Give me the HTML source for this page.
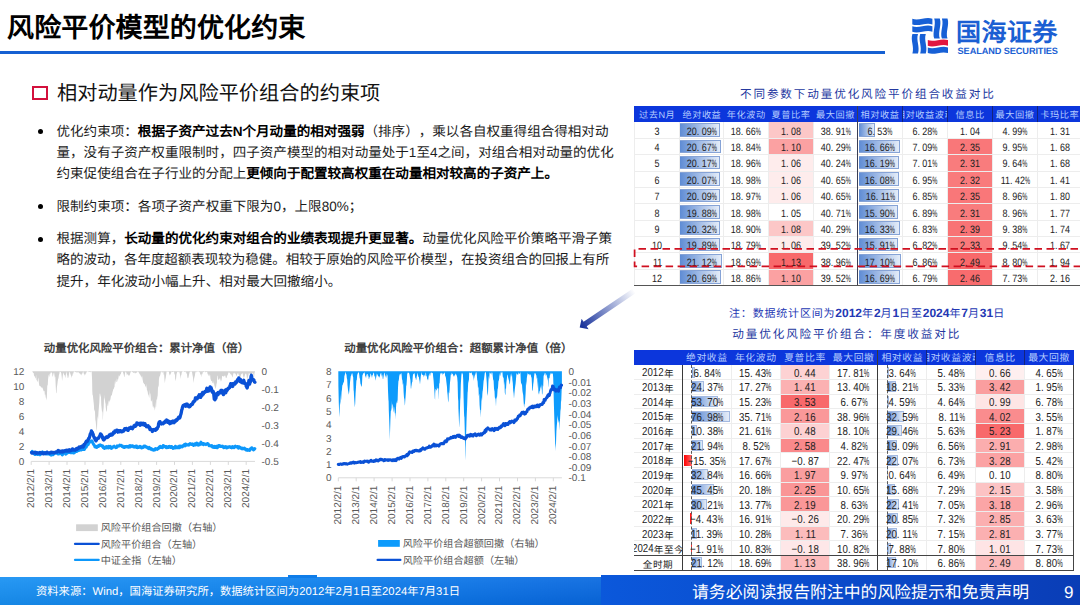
<!DOCTYPE html>
<html lang="zh-CN"><head><meta charset="utf-8"><title>风险平价模型的优化约束</title>
<style>
*{margin:0;padding:0;box-sizing:border-box}
.j{text-align:justify;text-align-last:justify}
html,body{width:1080px;height:605px;overflow:hidden;background:#fff}
body{position:relative;text-rendering:geometricPrecision;text-spacing-trim:space-all;font-family:"Liberation Sans",sans-serif;color:#222}
.abs{position:absolute;white-space:nowrap}
#title{left:7px;top:10px;font-size:27px;line-height:37px;font-weight:bold;color:#000;letter-spacing:.1px}
#rule{left:0;top:50.7px;width:885px;height:3.3px;background:#1560d2}
#sq{left:32.2px;top:85.7px;width:15.5px;height:14.8px;border:2.8px solid #d3103c}
#sub{left:57px;top:79px;font-size:20.2px;line-height:30px;color:#111}
.bl{left:56.5px;font-size:13.55px;line-height:21.4px;color:#1c1c1c}
.bl b{color:#000}
.dot{width:5px;height:5px;border-radius:50%;background:#000;left:38px}
#foot{left:0;top:576.5px;width:1080px;height:28.5px;background:linear-gradient(180deg,rgba(255,255,255,.07),rgba(0,0,40,.07)),linear-gradient(90deg,#1891f3 0%,#0d80ee 30%,#0868e0 56%,#0a55d6 100%)}
#footR{left:600.7px;top:575.2px;width:480px;height:30px;background:linear-gradient(90deg,#0b58db 0%,#0a4dce 40%,#0a3db6 100%)}
#footT{left:288px;top:575px;width:29px;height:3px;background:#0f7de9}
#src{left:36px;top:584.3px;font-size:11.3px;line-height:16px;color:#fff}
#disc{left:692px;top:581.8px;font-size:16.85px;line-height:22px;color:#fff}
#pg{left:1064px;top:581.8px;font-size:17px;line-height:22px;color:#fff}

#lgcn{left:956px;top:16.6px;font-size:25px;line-height:32px;font-weight:bold;color:#1b5fd3;letter-spacing:.35px}
#lgen{left:957.6px;top:44.6px;font-size:9.2px;line-height:12px;font-weight:bold;color:#1b5fd3;letter-spacing:-.1px}

.ct{font-size:11.4px;font-weight:bold;color:#404040;line-height:14px}
.lg{font-size:10.15px;line-height:13px;color:#595959}
svg text{font-family:"Liberation Sans",sans-serif}

.kai{font-family:"Liberation Sans",sans-serif}
.tt{color:#24389f;font-size:11.6px;letter-spacing:1.85px;line-height:15px}
.th{font-family:"Liberation Sans",sans-serif;font-weight:500;background:#0c36dc;color:#b4ccff;font-size:9.2px;letter-spacing:.55px;line-height:15px;overflow:hidden;display:flex;justify-content:center;align-items:center;padding-top:2.2px}
.c{display:flex;justify-content:center;align-items:center;overflow:visible}
.n{font-family:"Liberation Sans",sans-serif;font-size:10.7px;line-height:14px;color:#222;display:inline-block;transform:scaleX(.84);white-space:nowrap;position:relative;top:1.4px}
.n i{font-style:normal;display:inline-block}
.n .p{width:.556em;text-align:left}
.n .pc{transform:scaleX(.64);margin:0 -.165em}
.t2 .n{font-size:11.55px;top:1.2px}
.t2 .bar{border-color:#a3b9e0}
.t2 .th{font-size:9.9px;letter-spacing:.55px}
.yl{font-size:10.4px;line-height:14px;color:#1c1c1c;white-space:nowrap}
.yk{position:relative;top:2.4px;font-size:9.6px;letter-spacing:.6px}
.bar{background:linear-gradient(90deg,#5f8cd4 0%,#a9c1e8 55%,#e4ecf8 100%);border:1px solid #86a3d6;border-left:none}
.nbar{background:linear-gradient(90deg,#ff0000,#ff6b6b);}
.hl{background:#ededed;height:1px}
.vl{background:#ededed;width:1px}
.dk{background:#3a3a3a}
.d{font-style:normal;font-weight:bold;font-family:"Liberation Sans",sans-serif;letter-spacing:0;font-size:12px}
</style></head>
<body>

<div class="abs j" id="title" style="width:298.4px">风险平价模型的优化约束</div>
<div class="abs" id="rule"></div>
<div class="abs" id="sq"></div>
<div class="abs j" id="sub" style="width:323.3px">相对动量作为风险平价组合的约束项</div>

<div class="abs bl j" style="width:552.0px;top:120.7px">优化约束项：<b>根据子资产过去N个月动量的相对强弱</b>（排序），乘以各自权重得组合得相对动</div>
<div class="abs dot" style="top:129.2px"></div>
<div class="abs bl j" style="width:557.2px;top:142.2px">量，没有子资产权重限制时，四子资产模型的相对动量处于1至4之间，对组合相对动量的优化</div>
<div class="abs bl j" style="width:501.5px;top:163.4px">约束促使组合在子行业的分配上<b>更倾向于配置较高权重在动量相对较高的子资产上。</b></div>
<div class="abs bl j" style="width:305.8px;top:195.7px">限制约束项：各项子资产权重下限为0，上限80%；</div>
<div class="abs dot" style="top:204.2px"></div>
<div class="abs bl j" style="width:555.7px;top:228.2px">根据测算，<b>长动量的优化约束对组合的业绩表现提升更显著。</b>动量优化风险平价策略平滑子策</div>
<div class="abs dot" style="top:236.7px"></div>
<div class="abs bl j" style="width:552.8px;top:249.3px;letter-spacing:-.07px">略的波动，各年度超额表现较为稳健。相较于原始的风险平价模型，在投资组合的回报上有所</div>
<div class="abs bl j" style="width:284.8px;top:270.7px">提升，年化波动小幅上升、相对最大回撤缩小。</div>

<div class="abs" id="foot"></div>
<div class="abs" id="footT"></div>
<div class="abs" id="footR"></div>
<div class="abs j" id="src" style="width:424.0px">资料来源：Wind，国海证券研究所，数据统计区间为2012年2月1日至2024年7月31日</div>
<div class="abs j" id="disc" style="width:337.1px">请务必阅读报告附注中的风险提示和免责声明</div>
<div class="abs" id="pg">9</div>

<svg class="abs" style="left:908px;top:14px" width="46" height="44" viewBox="908 14 46 44"><path d="M912.3 18.8C918.9 21.2 925.6 16.4 932.4 18.8L932.4 24.4C925.6 22.0 918.9 26.8 912.3 24.4ZM912.3 26.2C918.9 28.6 925.6 23.8 932.4 26.2L932.4 31.8C925.6 29.4 918.9 34.2 912.3 31.8ZM934.2 18.4C936.4 25.1 932.0 31.7 934.2 38.6L939.8 38.6C937.6 31.7 942.0 25.1 939.8 18.4ZM941.9 18.4C944.1 25.1 939.7 31.7 941.9 38.6L947.5 38.6C945.3 31.7 949.7 25.1 947.5 18.4ZM912.4 34.0C910.2 40.4 914.6 46.8 912.4 53.4L918.0 53.4C920.2 46.8 915.8 40.4 918.0 34.0ZM920.2 34.0C918.0 40.4 922.4 46.8 920.2 53.4L925.8 53.4C928.0 46.8 923.6 40.4 925.8 34.0ZM927.8 47.5C934.5 49.9 941.1 45.1 948.0 47.5L948.0 53.1C941.1 50.7 934.5 55.5 927.8 53.1Z" fill="#1760d6"/><path d="M927.8 40.1C934.5 42.5 941.1 37.7 948.0 40.1L948.0 45.7C941.1 43.3 934.5 48.1 927.8 45.7Z" fill="#e2163f"/></svg>
<div class="abs j" id="lgcn" style="width:101.7px">国海证券</div>
<div class="abs" id="lgen">SEALAND SECURITIES</div>
<svg class="abs" style="left:0;top:330px" width="640" height="250" viewBox="0 330 640 250"><path d="M32.2 371.3 L32.5 371.7 L32.9 372.6 L33.3 372.9 L33.7 373.1 L34.1 376.6 L34.5 375.4 L34.9 376.9 L35.3 378.1 L35.7 378.7 L36.1 374.6 L36.5 380.3 L36.9 380.3 L37.3 381.4 L37.7 381.9 L38.1 377.5 L38.5 379.1 L38.9 383.0 L39.3 385.7 L39.7 385.7 L40.1 386.4 L40.5 385.8 L40.9 386.9 L41.3 387.9 L41.5 387.3 L41.7 387.2 L42.1 387.4 L42.5 387.8 L42.9 389.1 L43.3 390.1 L43.7 391.6 L44.1 390.8 L44.5 391.3 L44.5 391.3 L44.9 395.0 L45.3 394.3 L45.7 397.2 L46.1 398.2 L46.5 400.5 L46.5 400.5 L46.9 396.4 L47.3 385.1 L47.5 385.3 L47.7 385.9 L48.1 379.0 L48.5 376.1 L48.9 374.5 L49.3 377.4 L49.7 373.6 L50.1 374.6 L50.5 373.1 L50.9 372.3 L51.3 371.9 L51.7 373.1 L52.1 373.0 L52.5 376.6 L52.9 376.6 L53.3 374.5 L53.7 372.9 L54.1 372.5 L54.5 375.3 L54.9 377.8 L55.3 376.2 L55.7 385.8 L56.1 392.8 L56.4 393.0 L56.5 393.8 L56.9 387.3 L57.3 384.8 L57.7 381.4 L58.1 378.9 L58.5 378.3 L58.9 374.9 L59.3 373.9 L59.7 371.7 L60.1 371.7 L60.5 372.1 L60.9 372.3 L61.3 373.6 L61.7 376.6 L62.1 381.1 L62.5 378.1 L62.9 374.9 L63.3 372.5 L63.7 373.6 L64.1 374.9 L64.5 374.7 L64.9 376.3 L65.3 378.2 L65.7 375.5 L66.1 373.4 L66.5 371.6 L66.9 374.2 L67.3 375.4 L67.7 378.0 L68.1 378.0 L68.5 377.1 L68.9 374.8 L69.3 372.2 L69.7 371.7 L70.1 373.1 L70.5 374.3 L70.9 375.2 L71.3 376.0 L71.7 377.9 L72.1 376.1 L72.5 375.5 L72.9 373.3 L73.3 373.7 L73.7 372.0 L74.1 371.6 L74.5 371.4 L74.9 371.9 L75.3 372.0 L75.7 372.3 L76.1 371.8 L76.5 373.1 L76.9 372.1 L77.3 372.2 L77.7 372.4 L78.1 372.5 L78.5 371.9 L78.9 372.7 L79.3 373.4 L79.7 373.2 L80.1 373.5 L80.5 374.2 L80.9 374.8 L81.3 375.6 L81.7 373.7 L82.1 373.8 L82.5 373.3 L82.9 371.7 L83.3 371.6 L83.7 373.4 L84.1 374.0 L84.5 374.5 L84.9 375.7 L85.3 374.5 L85.7 373.5 L86.1 373.4 L86.5 372.2 L86.9 371.5 L87.3 371.4 L87.7 371.3 L88.1 372.3 L88.5 371.7 L88.9 371.3 L89.3 372.1 L89.7 372.1 L90.1 371.9 L90.5 372.4 L90.9 371.4 L91.3 371.6 L91.7 372.0 L92.1 380.3 L92.3 391.3 L92.5 394.8 L92.9 395.6 L93.3 399.6 L93.7 402.9 L94.0 406.3 L94.1 409.8 L94.5 411.7 L94.9 408.9 L95.3 419.4 L95.7 421.6 L96.1 425.7 L96.5 429.4 L96.9 431.0 L96.9 431.0 L97.3 420.8 L97.7 416.1 L98.1 419.0 L98.5 412.0 L98.5 412.0 L98.9 407.3 L99.3 402.5 L99.7 393.3 L100.1 394.4 L100.2 393.0 L100.5 397.3 L100.9 395.1 L101.3 405.0 L101.3 405.0 L101.7 409.0 L102.1 412.7 L102.5 410.4 L102.7 419.5 L102.9 419.7 L103.3 410.9 L103.7 407.1 L104.1 394.4 L104.3 398.0 L104.5 398.2 L104.9 399.9 L105.3 402.8 L105.6 404.0 L105.7 407.0 L106.1 409.8 L106.5 411.7 L106.8 411.0 L106.9 412.4 L107.3 402.9 L107.7 405.8 L108.1 405.9 L108.5 402.0 L108.5 402.0 L108.9 400.6 L109.3 400.6 L109.7 402.7 L110.0 400.0 L110.1 400.6 L110.5 398.7 L110.9 396.3 L111.3 395.1 L111.7 396.0 L112.1 394.1 L112.5 392.0 L112.5 392.0 L112.9 390.9 L113.3 389.0 L113.7 389.3 L114.1 387.2 L114.5 387.6 L114.9 380.2 L115.0 385.0 L115.3 380.1 L115.7 384.6 L116.1 378.0 L116.5 382.1 L116.9 382.1 L117.3 381.3 L117.7 379.1 L118.1 379.5 L118.5 377.6 L118.9 375.1 L119.3 376.8 L119.7 375.5 L120.1 375.6 L120.5 374.1 L120.9 374.0 L121.3 372.3 L121.7 371.8 L122.1 371.6 L122.5 371.7 L122.9 371.9 L123.3 373.3 L123.7 374.5 L124.1 376.5 L124.5 377.2 L124.9 373.9 L125.3 372.2 L125.7 371.5 L126.1 372.2 L126.5 373.0 L126.9 375.5 L127.3 373.9 L127.7 374.4 L128.1 374.7 L128.5 375.3 L128.9 376.1 L129.3 375.6 L129.7 375.1 L130.1 373.8 L130.5 372.6 L130.9 371.7 L131.3 371.6 L131.7 371.6 L132.1 372.0 L132.5 372.3 L132.9 372.0 L133.3 372.7 L133.7 372.9 L134.1 372.6 L134.5 372.6 L134.9 373.6 L135.3 372.8 L135.7 373.8 L136.1 372.1 L136.5 373.0 L136.9 372.7 L137.3 371.9 L137.7 371.4 L138.1 371.6 L138.5 372.4 L138.9 372.3 L139.3 373.5 L139.7 374.3 L140.1 374.5 L140.5 375.3 L140.9 376.3 L141.3 377.4 L141.7 375.7 L142.1 380.7 L142.5 375.3 L142.9 381.1 L143.3 382.9 L143.7 382.7 L144.1 384.6 L144.5 383.9 L144.9 384.2 L145.0 385.0 L145.3 386.6 L145.7 386.3 L146.1 388.2 L146.5 383.8 L146.9 390.0 L147.3 390.4 L147.5 391.3 L147.7 392.0 L148.1 394.8 L148.5 394.5 L148.9 397.2 L149.3 389.6 L149.7 397.2 L150.0 398.0 L150.1 392.7 L150.5 394.5 L150.9 400.9 L151.3 400.5 L151.7 402.1 L152.1 399.3 L152.5 404.3 L152.5 404.3 L152.9 407.3 L153.3 405.7 L153.7 408.0 L154.1 407.0 L154.5 408.8 L154.5 408.8 L154.9 410.8 L155.3 407.0 L155.7 401.4 L155.8 407.3 L156.1 406.9 L156.5 398.5 L156.9 400.3 L157.0 400.0 L157.3 397.3 L157.7 395.5 L158.1 385.3 L158.5 387.8 L158.8 385.3 L158.9 379.7 L159.3 376.9 L159.7 376.3 L160.1 375.6 L160.5 373.9 L160.9 371.7 L161.3 371.4 L161.7 372.0 L162.1 373.2 L162.5 371.5 L162.9 372.5 L163.3 371.5 L163.7 375.0 L164.1 374.2 L164.5 380.3 L164.9 383.2 L165.3 379.4 L165.7 377.9 L166.1 375.2 L166.5 372.3 L166.9 371.3 L167.3 371.9 L167.7 371.5 L168.1 371.5 L168.5 371.8 L168.9 371.9 L169.3 374.2 L169.7 375.8 L170.1 373.1 L170.5 375.2 L170.9 373.8 L171.3 372.2 L171.7 371.5 L172.1 372.1 L172.5 371.9 L172.9 371.9 L173.3 372.1 L173.7 371.5 L174.1 372.1 L174.5 374.5 L174.9 374.2 L175.3 381.3 L175.7 379.7 L176.1 378.6 L176.5 374.2 L176.9 373.1 L177.3 371.4 L177.7 371.9 L178.1 372.3 L178.5 372.0 L178.9 371.5 L179.3 371.8 L179.7 373.3 L180.1 375.3 L180.5 378.9 L180.9 375.5 L181.3 375.2 L181.7 373.1 L182.1 371.6 L182.5 371.8 L182.9 371.5 L183.3 371.6 L183.7 371.3 L184.1 371.7 L184.5 371.9 L184.9 371.8 L185.3 372.5 L185.7 371.6 L186.1 371.7 L186.5 374.3 L186.9 373.1 L187.3 377.0 L187.7 378.3 L188.1 378.1 L188.5 377.6 L188.9 375.3 L189.3 373.4 L189.7 371.9 L190.1 371.9 L190.5 371.8 L190.9 371.3 L191.3 371.4 L191.7 371.7 L192.1 372.5 L192.5 374.9 L192.9 377.0 L193.3 380.3 L193.7 383.1 L194.1 378.6 L194.5 377.1 L194.9 375.5 L195.3 372.7 L195.7 372.1 L196.1 371.6 L196.5 371.8 L196.9 372.4 L197.3 371.8 L197.7 371.3 L198.1 371.8 L198.5 371.6 L198.9 371.5 L199.3 372.2 L199.7 372.1 L200.1 373.7 L200.5 375.5 L200.9 373.7 L201.3 377.5 L201.7 374.1 L202.1 374.6 L202.5 373.8 L202.9 372.0 L203.3 372.2 L203.7 372.1 L204.1 371.9 L204.5 371.5 L204.9 371.5 L205.3 372.3 L205.7 372.2 L206.1 371.9 L206.5 371.9 L206.9 371.8 L207.3 372.2 L207.7 374.4 L208.1 373.9 L208.5 375.6 L208.9 375.8 L209.3 376.4 L209.7 374.2 L210.1 374.9 L210.5 379.0 L210.9 380.0 L211.3 381.5 L211.7 380.8 L212.1 381.1 L212.5 383.2 L212.9 382.7 L213.3 383.8 L213.7 380.7 L214.1 386.1 L214.5 386.9 L214.9 382.7 L215.2 389.8 L215.3 388.7 L215.7 387.9 L216.1 387.0 L216.5 384.1 L216.9 382.9 L217.3 375.9 L217.7 375.5 L218.1 379.9 L218.5 379.8 L218.9 379.2 L219.3 378.0 L219.7 379.4 L220.1 379.6 L220.5 381.9 L220.9 378.0 L221.3 381.4 L221.7 379.9 L222.1 376.0 L222.5 376.2 L222.9 375.8 L223.3 376.9 L223.7 376.0 L224.1 376.5 L224.5 375.4 L224.9 375.8 L225.3 375.6 L225.7 377.8 L226.1 377.8 L226.5 378.2 L226.9 376.8 L227.3 375.3 L227.7 375.2 L228.1 373.6 L228.5 373.0 L228.9 371.8 L229.3 373.0 L229.7 372.5 L230.1 373.9 L230.5 373.6 L230.9 374.8 L231.3 375.7 L231.7 374.1 L232.1 377.0 L232.5 377.5 L232.9 375.6 L233.3 374.0 L233.7 373.1 L234.1 373.3 L234.5 372.4 L234.9 374.2 L235.3 374.2 L235.7 372.9 L236.1 376.0 L236.5 375.5 L236.9 375.5 L237.3 373.9 L237.7 373.2 L238.1 373.1 L238.5 374.4 L238.9 374.9 L239.3 376.5 L239.7 377.0 L240.1 379.1 L240.5 377.6 L240.9 374.9 L241.3 374.3 L241.7 373.8 L242.1 373.5 L242.5 372.9 L242.9 374.4 L243.3 376.7 L243.7 377.8 L244.1 377.7 L244.5 376.6 L244.9 375.2 L245.3 373.9 L245.7 373.6 L246.1 373.5 L246.5 374.7 L246.9 378.2 L247.3 379.5 L247.7 378.1 L248.1 376.3 L248.5 374.8 L248.9 373.1 L249.3 374.1 L249.7 373.0 L250.1 374.9 L250.5 375.5 L250.9 376.4 L251.3 376.5 L251.7 374.1 L252.1 374.3 L252.5 373.6 L252.9 372.6 L253.3 374.1 L253.7 375.5 L254.1 377.7 L254.5 373.1 L254.9 372.1 L255.0 371.3Z" fill="#d2d2d2"/><path d="M31.2 461.4H255.0" stroke="#d9d9d9" stroke-width="1"/><path d="M31.2 461.4v3.5" stroke="#d9d9d9" stroke-width="1" fill="none"/><path d="M49.1 461.4v3.5" stroke="#d9d9d9" stroke-width="1" fill="none"/><path d="M67.0 461.4v3.5" stroke="#d9d9d9" stroke-width="1" fill="none"/><path d="M85.0 461.4v3.5" stroke="#d9d9d9" stroke-width="1" fill="none"/><path d="M102.9 461.4v3.5" stroke="#d9d9d9" stroke-width="1" fill="none"/><path d="M120.8 461.4v3.5" stroke="#d9d9d9" stroke-width="1" fill="none"/><path d="M138.7 461.4v3.5" stroke="#d9d9d9" stroke-width="1" fill="none"/><path d="M156.6 461.4v3.5" stroke="#d9d9d9" stroke-width="1" fill="none"/><path d="M174.5 461.4v3.5" stroke="#d9d9d9" stroke-width="1" fill="none"/><path d="M192.4 461.4v3.5" stroke="#d9d9d9" stroke-width="1" fill="none"/><path d="M210.4 461.4v3.5" stroke="#d9d9d9" stroke-width="1" fill="none"/><path d="M228.3 461.4v3.5" stroke="#d9d9d9" stroke-width="1" fill="none"/><path d="M246.2 461.4v3.5" stroke="#d9d9d9" stroke-width="1" fill="none"/><path d="M31.6 452.1 L32.0 452.1 L32.3 451.4 L32.7 452.4 L33.0 452.8 L33.4 452.9 L33.7 452.6 L34.1 452.6 L34.4 453.7 L34.8 454.4 L35.1 453.9 L35.5 454.3 L35.8 453.1 L36.2 452.3 L36.5 452.5 L36.9 452.4 L37.2 452.6 L37.6 453.0 L37.9 454.6 L38.3 453.9 L38.6 453.7 L39.0 453.8 L39.3 453.7 L39.7 454.1 L40.0 454.8 L40.4 453.7 L40.7 453.8 L41.1 453.6 L41.4 453.8 L41.8 453.0 L42.1 452.5 L42.5 451.9 L42.8 452.9 L43.2 453.4 L43.5 453.6 L43.9 452.6 L44.2 452.9 L44.6 452.9 L44.9 452.6 L45.3 452.7 L45.6 453.5 L46.0 453.9 L46.3 453.8 L46.7 454.0 L47.0 453.6 L47.4 453.7 L47.7 453.7 L48.1 454.0 L48.4 453.8 L48.8 453.7 L49.1 453.6 L49.5 453.3 L49.8 454.5 L50.2 454.3 L50.5 454.2 L50.9 455.0 L51.2 455.1 L51.6 453.7 L51.9 453.9 L52.3 454.1 L52.6 454.7 L53.0 454.8 L53.3 454.6 L53.7 453.5 L54.0 453.0 L54.4 453.3 L54.7 453.5 L55.1 452.9 L55.4 452.9 L55.8 452.8 L56.1 453.0 L56.5 453.2 L56.8 453.0 L57.2 452.5 L57.5 453.3 L57.9 454.0 L58.2 453.6 L58.6 453.9 L58.9 453.7 L59.3 453.8 L59.6 453.7 L60.0 453.0 L60.3 453.3 L60.7 453.6 L61.0 452.9 L61.4 453.8 L61.7 454.4 L62.1 454.7 L62.4 454.9 L62.8 454.4 L63.1 453.6 L63.5 453.0 L63.8 452.5 L64.2 452.6 L64.5 452.6 L64.9 453.0 L65.2 451.9 L65.6 453.3 L65.9 454.1 L66.3 453.5 L66.6 453.4 L67.0 453.3 L67.3 453.1 L67.7 452.8 L68.0 452.6 L68.4 452.1 L68.7 452.3 L69.1 452.4 L69.4 452.5 L69.8 452.0 L70.1 452.2 L70.5 452.3 L70.8 452.6 L71.2 451.9 L71.5 452.3 L71.9 452.7 L72.2 452.8 L72.5 452.4 L72.9 452.1 L73.2 452.0 L73.6 452.4 L73.9 453.0 L74.3 452.6 L74.6 452.0 L75.0 452.1 L75.3 452.0 L75.7 451.4 L76.0 451.0 L76.4 451.1 L76.7 451.4 L77.1 450.7 L77.4 450.3 L77.8 450.7 L78.1 450.1 L78.5 450.3 L78.8 450.5 L79.2 450.3 L79.5 449.8 L79.9 449.8 L80.2 449.7 L80.6 449.9 L80.9 449.3 L81.3 449.9 L81.6 448.9 L82.0 448.9 L82.3 449.0 L82.7 449.5 L83.0 448.9 L83.4 449.1 L83.7 448.6 L84.1 448.9 L84.4 449.5 L84.8 448.5 L85.1 448.1 L85.5 447.0 L85.8 447.1 L86.2 447.1 L86.5 446.3 L86.9 445.1 L87.2 444.9 L87.6 445.0 L87.9 444.8 L88.3 444.4 L88.6 442.7 L89.0 442.0 L89.3 442.5 L89.7 441.3 L90.0 441.5 L90.4 441.8 L90.7 441.3 L91.1 441.0 L91.4 441.0 L91.8 440.8 L92.1 441.5 L92.5 442.1 L92.8 442.8 L93.2 443.8 L93.5 444.3 L93.9 444.8 L94.2 445.3 L94.6 445.6 L94.9 446.8 L95.3 447.0 L95.6 447.1 L96.0 447.2 L96.3 446.8 L96.7 447.4 L97.0 447.1 L97.4 446.3 L97.7 446.0 L98.1 445.9 L98.4 445.7 L98.8 446.3 L99.1 445.4 L99.5 445.7 L99.8 445.6 L100.2 444.9 L100.5 445.0 L100.9 445.1 L101.2 445.7 L101.6 445.7 L101.9 446.2 L102.3 445.7 L102.6 445.7 L103.0 446.8 L103.3 447.6 L103.7 447.8 L104.0 447.6 L104.4 448.4 L104.7 447.2 L105.1 447.1 L105.4 447.7 L105.8 448.0 L106.1 447.4 L106.5 446.6 L106.8 447.7 L107.2 447.8 L107.5 447.3 L107.9 447.4 L108.2 447.9 L108.6 446.4 L108.9 447.4 L109.3 447.7 L109.6 446.6 L110.0 447.2 L110.3 446.4 L110.7 447.3 L111.0 447.4 L111.4 448.4 L111.7 447.6 L112.1 447.4 L112.4 447.7 L112.8 447.1 L113.1 446.7 L113.5 446.6 L113.8 446.7 L114.2 446.2 L114.5 446.7 L114.9 447.0 L115.2 446.9 L115.6 447.6 L115.9 447.1 L116.3 447.5 L116.6 446.9 L117.0 447.1 L117.3 445.9 L117.7 446.2 L118.0 446.2 L118.4 446.1 L118.7 446.0 L119.1 446.0 L119.4 445.8 L119.8 445.0 L120.1 445.3 L120.5 445.5 L120.8 445.6 L121.2 445.4 L121.5 445.8 L121.9 446.4 L122.2 446.3 L122.6 446.1 L122.9 446.9 L123.3 447.2 L123.6 447.3 L124.0 447.5 L124.3 446.9 L124.7 446.6 L125.0 447.1 L125.4 446.5 L125.7 446.4 L126.1 446.6 L126.4 446.7 L126.8 446.4 L127.1 446.9 L127.5 446.6 L127.8 446.8 L128.2 447.2 L128.5 447.2 L128.9 447.2 L129.2 446.3 L129.6 445.7 L129.9 445.6 L130.3 446.1 L130.6 446.9 L131.0 446.1 L131.3 446.3 L131.7 445.9 L132.0 445.7 L132.4 445.8 L132.7 446.4 L133.1 446.5 L133.4 447.0 L133.8 446.3 L134.1 446.8 L134.5 447.1 L134.8 446.9 L135.2 447.0 L135.5 446.5 L135.9 446.0 L136.2 446.0 L136.6 446.0 L136.9 447.6 L137.3 447.0 L137.6 447.7 L138.0 447.4 L138.3 447.3 L138.7 447.4 L139.0 446.8 L139.4 447.2 L139.7 447.2 L140.1 446.3 L140.4 446.8 L140.8 447.1 L141.1 447.2 L141.5 447.9 L141.8 447.3 L142.2 447.4 L142.5 447.6 L142.9 446.9 L143.2 447.5 L143.6 446.6 L143.9 446.2 L144.3 446.8 L144.6 446.4 L145.0 446.6 L145.3 446.2 L145.7 446.8 L146.0 446.6 L146.4 447.3 L146.7 446.9 L147.1 447.6 L147.4 447.8 L147.8 448.1 L148.1 448.3 L148.5 448.6 L148.8 448.1 L149.2 447.3 L149.5 448.1 L149.9 448.2 L150.2 448.5 L150.6 449.2 L150.9 448.5 L151.3 448.7 L151.6 449.0 L152.0 449.0 L152.3 449.8 L152.7 450.0 L153.0 449.9 L153.4 449.7 L153.7 450.2 L154.1 449.8 L154.4 450.0 L154.8 450.0 L155.1 448.9 L155.5 448.5 L155.8 448.7 L156.2 448.9 L156.5 449.2 L156.9 449.3 L157.2 449.4 L157.6 448.7 L157.9 448.3 L158.3 448.5 L158.6 447.9 L159.0 448.2 L159.3 447.1 L159.7 447.4 L160.0 447.2 L160.4 446.3 L160.7 447.2 L161.1 447.4 L161.4 447.4 L161.8 446.8 L162.1 446.8 L162.5 447.7 L162.8 447.2 L163.2 445.5 L163.5 445.8 L163.9 445.8 L164.2 446.4 L164.6 446.5 L164.9 446.4 L165.3 446.4 L165.6 447.2 L166.0 446.6 L166.3 447.8 L166.7 447.3 L167.0 446.8 L167.4 447.4 L167.7 447.6 L168.1 447.0 L168.4 447.5 L168.8 446.5 L169.1 446.4 L169.5 447.3 L169.8 447.2 L170.2 446.6 L170.5 447.1 L170.9 447.6 L171.2 447.5 L171.6 446.5 L171.9 446.7 L172.3 447.1 L172.6 447.6 L173.0 448.4 L173.3 447.8 L173.7 447.4 L174.0 447.3 L174.4 447.9 L174.7 447.2 L175.1 447.9 L175.4 446.3 L175.8 447.1 L176.1 446.8 L176.5 447.3 L176.8 447.6 L177.2 446.9 L177.5 447.0 L177.9 447.3 L178.2 447.6 L178.6 447.0 L178.9 446.6 L179.3 446.0 L179.6 447.7 L180.0 447.3 L180.3 447.0 L180.7 446.1 L181.0 446.7 L181.4 446.3 L181.7 446.9 L182.1 447.0 L182.4 446.5 L182.8 446.5 L183.1 445.6 L183.5 445.4 L183.8 445.2 L184.2 444.7 L184.5 445.0 L184.9 445.1 L185.2 445.9 L185.6 444.0 L185.9 444.2 L186.3 444.2 L186.6 444.4 L187.0 444.9 L187.3 445.1 L187.7 445.1 L188.0 444.8 L188.4 445.1 L188.7 445.2 L189.1 444.2 L189.4 444.3 L189.8 443.8 L190.1 443.6 L190.5 444.1 L190.8 444.3 L191.2 444.5 L191.5 444.1 L191.9 444.1 L192.2 443.8 L192.6 444.2 L192.9 444.6 L193.3 445.3 L193.6 445.5 L194.0 444.6 L194.3 444.3 L194.7 443.8 L195.0 444.1 L195.4 445.1 L195.7 445.1 L196.1 443.7 L196.4 443.3 L196.8 443.0 L197.1 443.8 L197.5 443.9 L197.8 444.2 L198.2 445.1 L198.5 444.3 L198.9 443.8 L199.2 444.9 L199.6 444.8 L199.9 444.2 L200.3 443.2 L200.6 442.8 L201.0 442.2 L201.3 443.0 L201.7 443.5 L202.0 444.2 L202.4 444.1 L202.7 443.8 L203.1 443.5 L203.4 444.7 L203.8 443.6 L204.1 443.9 L204.5 444.0 L204.8 444.3 L205.2 444.0 L205.5 444.3 L205.9 444.6 L206.2 444.3 L206.6 443.9 L206.9 443.9 L207.3 443.5 L207.6 443.6 L208.0 443.7 L208.3 444.1 L208.7 445.0 L209.0 445.6 L209.4 445.1 L209.7 445.5 L210.1 445.6 L210.4 445.9 L210.8 445.9 L211.1 446.0 L211.5 445.8 L211.8 445.6 L212.2 446.3 L212.5 447.1 L212.9 447.2 L213.2 447.3 L213.6 447.4 L213.9 447.1 L214.3 446.4 L214.6 447.2 L215.0 447.5 L215.3 447.2 L215.7 446.7 L216.0 447.4 L216.4 446.2 L216.7 447.1 L217.1 447.1 L217.4 447.8 L217.8 446.6 L218.1 446.2 L218.5 445.6 L218.8 445.8 L219.2 445.8 L219.5 445.6 L219.9 446.4 L220.2 446.0 L220.6 445.9 L220.9 446.4 L221.3 446.2 L221.6 446.2 L222.0 446.6 L222.3 446.6 L222.7 446.2 L223.0 446.5 L223.4 446.7 L223.7 447.7 L224.1 446.9 L224.4 447.4 L224.8 446.8 L225.1 446.7 L225.5 446.6 L225.8 446.8 L226.2 447.2 L226.5 447.9 L226.9 447.1 L227.2 447.6 L227.6 447.7 L227.9 447.7 L228.3 446.9 L228.6 447.2 L229.0 446.9 L229.3 446.9 L229.7 446.6 L230.0 446.9 L230.4 447.3 L230.7 447.5 L231.1 447.1 L231.4 447.4 L231.8 447.8 L232.1 446.9 L232.5 447.5 L232.8 446.6 L233.2 446.9 L233.5 447.1 L233.9 447.7 L234.2 447.5 L234.6 447.0 L234.9 446.5 L235.3 446.1 L235.6 446.8 L236.0 446.7 L236.3 446.5 L236.7 446.9 L237.0 446.6 L237.4 446.5 L237.7 446.5 L238.1 447.5 L238.4 448.1 L238.8 447.6 L239.1 446.7 L239.5 447.1 L239.8 447.3 L240.2 447.6 L240.5 448.0 L240.9 447.8 L241.2 448.4 L241.6 448.7 L241.9 448.7 L242.3 448.4 L242.6 448.2 L243.0 448.8 L243.3 448.3 L243.7 448.5 L244.0 448.4 L244.4 448.1 L244.7 448.9 L245.1 449.1 L245.4 449.4 L245.8 450.0 L246.1 449.2 L246.5 449.5 L246.8 449.9 L247.2 450.4 L247.5 449.6 L247.9 449.9 L248.2 449.8 L248.6 450.2 L248.9 450.3 L249.3 450.0 L249.6 450.5 L250.0 449.8 L250.3 449.0 L250.7 448.5 L251.0 448.2 L251.4 448.4 L251.7 447.7 L252.1 448.2 L252.4 448.8 L252.8 449.4 L253.1 449.2 L253.5 449.9 L253.8 449.4 L254.2 449.4 L254.5 448.6 L254.9 448.7" fill="none" stroke="#0d98fb" stroke-width="3.0" stroke-linejoin="round" stroke-linecap="round"/><path d="M31.6 452.6 L32.0 453.1 L32.3 453.2 L32.7 452.7 L33.0 452.9 L33.4 453.0 L33.7 452.9 L34.1 452.9 L34.4 452.8 L34.8 452.7 L35.1 452.2 L35.5 452.4 L35.8 453.0 L36.2 453.4 L36.5 453.1 L36.9 452.8 L37.2 452.8 L37.6 453.1 L37.9 453.2 L38.3 452.9 L38.6 453.1 L39.0 453.0 L39.3 453.1 L39.7 452.9 L40.0 452.5 L40.4 452.7 L40.7 453.1 L41.1 452.7 L41.4 452.8 L41.8 453.2 L42.1 453.0 L42.5 452.8 L42.8 453.6 L43.2 453.7 L43.5 453.8 L43.9 453.2 L44.2 453.7 L44.6 452.9 L44.9 452.8 L45.3 453.1 L45.6 453.5 L46.0 452.9 L46.3 452.7 L46.7 452.8 L47.0 452.1 L47.4 452.6 L47.7 452.8 L48.1 452.6 L48.4 452.8 L48.8 453.0 L49.1 452.9 L49.5 452.9 L49.8 453.3 L50.2 452.8 L50.5 452.7 L50.9 452.3 L51.2 452.7 L51.6 452.3 L51.9 452.5 L52.3 452.4 L52.6 452.3 L53.0 452.8 L53.3 452.5 L53.7 452.8 L54.0 452.8 L54.4 452.9 L54.7 452.4 L55.1 452.5 L55.4 452.5 L55.8 452.0 L56.1 451.9 L56.5 451.8 L56.8 451.7 L57.2 452.1 L57.5 451.6 L57.9 450.9 L58.2 450.4 L58.6 450.6 L58.9 450.7 L59.3 451.0 L59.6 451.3 L60.0 452.0 L60.3 451.8 L60.7 451.8 L61.0 451.3 L61.4 451.5 L61.7 451.9 L62.1 452.1 L62.4 450.9 L62.8 451.3 L63.1 451.9 L63.5 451.9 L63.8 450.9 L64.2 450.8 L64.5 451.1 L64.9 451.2 L65.2 450.7 L65.6 450.4 L65.9 451.0 L66.3 450.3 L66.6 451.1 L67.0 450.9 L67.3 451.0 L67.7 450.3 L68.0 450.2 L68.4 450.6 L68.7 450.0 L69.1 451.1 L69.4 450.2 L69.8 449.8 L70.1 450.1 L70.5 450.4 L70.8 450.7 L71.2 450.4 L71.5 450.3 L71.9 450.2 L72.2 450.0 L72.5 448.9 L72.9 449.9 L73.2 450.1 L73.6 450.2 L73.9 449.9 L74.3 450.1 L74.6 450.0 L75.0 449.8 L75.3 450.2 L75.7 449.1 L76.0 449.2 L76.4 448.6 L76.7 448.5 L77.1 449.2 L77.4 448.4 L77.8 448.3 L78.1 448.0 L78.5 448.4 L78.8 447.7 L79.2 446.9 L79.5 447.3 L79.9 447.1 L80.2 446.9 L80.6 447.4 L80.9 446.7 L81.3 446.5 L81.6 446.5 L82.0 446.6 L82.3 446.1 L82.7 446.5 L83.0 447.1 L83.4 446.0 L83.7 446.3 L84.1 444.3 L84.4 444.7 L84.8 443.9 L85.1 443.5 L85.5 442.9 L85.8 442.2 L86.2 441.4 L86.5 441.1 L86.9 441.6 L87.2 441.6 L87.6 440.8 L87.9 440.0 L88.3 439.3 L88.6 438.4 L89.0 438.6 L89.3 437.8 L89.7 436.6 L90.0 435.1 L90.4 433.6 L90.7 433.4 L91.1 432.7 L91.4 430.9 L91.8 431.6 L92.1 431.8 L92.5 433.2 L92.8 433.6 L93.2 434.5 L93.5 435.9 L93.9 436.8 L94.2 437.9 L94.6 437.8 L94.9 439.2 L95.3 440.2 L95.6 440.3 L96.0 440.9 L96.3 440.1 L96.7 439.6 L97.0 438.5 L97.4 438.4 L97.7 438.2 L98.1 438.5 L98.4 438.3 L98.8 437.9 L99.1 436.9 L99.5 436.2 L99.8 435.6 L100.2 435.3 L100.5 433.8 L100.9 434.7 L101.2 434.5 L101.6 435.1 L101.9 436.0 L102.3 436.4 L102.6 438.1 L103.0 438.3 L103.3 439.6 L103.7 439.9 L104.0 439.0 L104.4 438.8 L104.7 439.1 L105.1 438.3 L105.4 438.0 L105.8 437.3 L106.1 437.2 L106.5 436.8 L106.8 436.7 L107.2 437.1 L107.5 437.5 L107.9 436.9 L108.2 436.6 L108.6 436.6 L108.9 435.9 L109.3 435.0 L109.6 435.6 L110.0 434.7 L110.3 435.1 L110.7 434.2 L111.0 435.2 L111.4 434.1 L111.7 434.5 L112.1 435.0 L112.4 433.8 L112.8 434.4 L113.1 433.4 L113.5 432.2 L113.8 432.8 L114.2 433.1 L114.5 432.7 L114.9 431.0 L115.2 431.4 L115.6 431.4 L115.9 431.3 L116.3 431.2 L116.6 430.2 L117.0 430.2 L117.3 431.6 L117.7 432.2 L118.0 431.5 L118.4 430.8 L118.7 431.1 L119.1 431.6 L119.4 431.7 L119.8 430.6 L120.1 430.7 L120.5 430.7 L120.8 431.5 L121.2 431.8 L121.5 431.5 L121.9 431.8 L122.2 430.9 L122.6 431.6 L122.9 430.7 L123.3 430.7 L123.6 431.0 L124.0 430.0 L124.3 429.6 L124.7 428.6 L125.0 429.2 L125.4 429.4 L125.7 429.3 L126.1 429.7 L126.4 428.4 L126.8 428.8 L127.1 429.1 L127.5 429.1 L127.8 429.6 L128.2 430.4 L128.5 429.4 L128.9 428.5 L129.2 428.0 L129.6 428.1 L129.9 428.4 L130.3 427.6 L130.6 428.2 L131.0 427.2 L131.3 427.8 L131.7 427.7 L132.0 427.7 L132.4 428.7 L132.7 427.6 L133.1 427.0 L133.4 426.9 L133.8 427.1 L134.1 425.7 L134.5 425.8 L134.8 425.2 L135.2 425.6 L135.5 426.2 L135.9 425.7 L136.2 425.2 L136.6 425.0 L136.9 422.8 L137.3 423.8 L137.6 424.2 L138.0 424.1 L138.3 423.7 L138.7 423.4 L139.0 423.6 L139.4 424.6 L139.7 424.4 L140.1 425.3 L140.4 423.2 L140.8 423.4 L141.1 424.0 L141.5 424.2 L141.8 423.2 L142.2 423.3 L142.5 424.7 L142.9 423.9 L143.2 423.6 L143.6 423.3 L143.9 423.6 L144.3 424.6 L144.6 425.2 L145.0 423.7 L145.3 425.5 L145.7 425.2 L146.0 425.1 L146.4 426.7 L146.7 426.6 L147.1 425.8 L147.4 425.8 L147.8 425.8 L148.1 425.7 L148.5 426.3 L148.8 427.5 L149.2 428.0 L149.5 427.1 L149.9 429.6 L150.2 428.6 L150.6 428.8 L150.9 429.0 L151.3 429.7 L151.6 429.4 L152.0 429.9 L152.3 431.5 L152.7 431.1 L153.0 430.1 L153.4 430.4 L153.7 429.7 L154.1 429.5 L154.4 429.8 L154.8 430.0 L155.1 429.7 L155.5 430.3 L155.8 429.8 L156.2 428.7 L156.5 429.5 L156.9 428.6 L157.2 428.8 L157.6 427.4 L157.9 427.1 L158.3 426.5 L158.6 423.7 L159.0 422.6 L159.3 422.0 L159.7 423.2 L160.0 421.7 L160.4 422.9 L160.7 423.8 L161.1 423.8 L161.4 424.0 L161.8 423.2 L162.1 423.1 L162.5 423.2 L162.8 423.4 L163.2 423.7 L163.5 423.2 L163.9 422.5 L164.2 422.2 L164.6 422.7 L164.9 421.5 L165.3 421.0 L165.6 421.3 L166.0 421.4 L166.3 421.7 L166.7 420.0 L167.0 420.7 L167.4 421.2 L167.7 422.3 L168.1 420.8 L168.4 421.2 L168.8 422.0 L169.1 422.5 L169.5 423.3 L169.8 423.7 L170.2 422.3 L170.5 422.7 L170.9 422.2 L171.2 421.6 L171.6 423.0 L171.9 422.1 L172.3 421.4 L172.6 421.3 L173.0 420.9 L173.3 422.0 L173.7 422.0 L174.0 422.7 L174.4 422.3 L174.7 421.2 L175.1 421.7 L175.4 420.6 L175.8 420.0 L176.1 419.8 L176.5 419.7 L176.8 420.5 L177.2 419.5 L177.5 419.5 L177.9 419.2 L178.2 417.9 L178.6 417.2 L178.9 417.3 L179.3 417.9 L179.6 418.0 L180.0 417.4 L180.3 416.2 L180.7 414.6 L181.0 413.9 L181.4 411.9 L181.7 410.0 L182.1 409.2 L182.4 407.4 L182.8 406.6 L183.1 405.5 L183.5 405.2 L183.8 405.8 L184.2 405.5 L184.5 405.7 L184.9 404.7 L185.2 405.7 L185.6 405.4 L185.9 406.3 L186.3 404.2 L186.6 404.6 L187.0 405.7 L187.3 404.2 L187.7 405.0 L188.0 405.9 L188.4 406.4 L188.7 405.4 L189.1 406.3 L189.4 406.8 L189.8 405.8 L190.1 406.4 L190.5 405.8 L190.8 405.4 L191.2 404.5 L191.5 404.6 L191.9 404.1 L192.2 404.5 L192.6 404.0 L192.9 402.5 L193.3 401.8 L193.6 402.2 L194.0 401.2 L194.3 401.2 L194.7 401.2 L195.0 400.4 L195.4 398.0 L195.7 398.5 L196.1 398.8 L196.4 398.8 L196.8 397.8 L197.1 398.9 L197.5 398.2 L197.8 397.2 L198.2 396.4 L198.5 396.8 L198.9 395.6 L199.2 394.8 L199.6 396.9 L199.9 397.3 L200.3 397.3 L200.6 397.4 L201.0 396.7 L201.3 394.1 L201.7 395.0 L202.0 395.4 L202.4 394.9 L202.7 392.3 L203.1 393.4 L203.4 394.1 L203.8 392.7 L204.1 392.4 L204.5 392.6 L204.8 391.8 L205.2 392.3 L205.5 391.6 L205.9 391.6 L206.2 390.9 L206.6 389.0 L206.9 388.2 L207.3 391.3 L207.6 390.4 L208.0 390.7 L208.3 390.7 L208.7 391.0 L209.0 390.0 L209.4 388.3 L209.7 388.4 L210.1 386.9 L210.4 387.7 L210.8 389.4 L211.1 387.7 L211.5 389.0 L211.8 390.6 L212.2 392.1 L212.5 391.2 L212.9 391.6 L213.2 391.5 L213.6 392.8 L213.9 395.6 L214.3 399.2 L214.6 399.0 L215.0 399.8 L215.3 398.9 L215.7 397.1 L216.0 398.2 L216.4 394.1 L216.7 393.6 L217.1 393.2 L217.4 394.5 L217.8 394.5 L218.1 394.7 L218.5 392.4 L218.8 392.6 L219.2 393.2 L219.5 392.8 L219.9 392.5 L220.2 391.9 L220.6 391.4 L220.9 390.4 L221.3 392.9 L221.6 392.2 L222.0 390.4 L222.3 391.6 L222.7 392.1 L223.0 392.7 L223.4 394.7 L223.7 393.7 L224.1 392.6 L224.4 391.3 L224.8 391.0 L225.1 390.2 L225.5 390.2 L225.8 392.8 L226.2 391.6 L226.5 389.4 L226.9 390.7 L227.2 390.2 L227.6 389.6 L227.9 389.0 L228.3 388.6 L228.6 388.0 L229.0 388.2 L229.3 387.7 L229.7 387.6 L230.0 385.5 L230.4 384.8 L230.7 383.7 L231.1 384.6 L231.4 385.0 L231.8 383.9 L232.1 384.3 L232.5 386.5 L232.8 386.3 L233.2 383.9 L233.5 383.4 L233.9 383.8 L234.2 383.3 L234.6 383.3 L234.9 384.1 L235.3 383.7 L235.6 382.0 L236.0 382.7 L236.3 382.3 L236.7 382.2 L237.0 381.4 L237.4 380.1 L237.7 379.5 L238.1 380.1 L238.4 379.8 L238.8 377.9 L239.1 380.8 L239.5 380.1 L239.8 380.2 L240.2 381.6 L240.5 379.4 L240.9 382.0 L241.2 381.4 L241.6 382.5 L241.9 382.1 L242.3 382.6 L242.6 382.8 L243.0 382.8 L243.3 380.9 L243.7 380.2 L244.0 381.3 L244.4 383.4 L244.7 382.7 L245.1 383.5 L245.4 383.5 L245.8 383.9 L246.1 386.1 L246.5 385.4 L246.8 387.4 L247.2 388.0 L247.5 386.7 L247.9 384.9 L248.2 383.5 L248.6 381.9 L248.9 380.5 L249.3 383.3 L249.6 384.1 L250.0 382.6 L250.3 382.3 L250.7 380.0 L251.0 376.6 L251.4 375.3 L251.7 376.6 L252.1 379.6 L252.4 380.0 L252.8 379.5 L253.1 380.2 L253.5 380.1 L253.8 379.8 L254.2 381.1 L254.5 382.0 L254.9 382.3" fill="none" stroke="#0a51d6" stroke-width="3.3" stroke-linejoin="round" stroke-linecap="round"/><text x="24.3" y="374.9" text-anchor="end" font-size="10" fill="#595959">12</text><text x="24.3" y="389.9" text-anchor="end" font-size="10" fill="#595959">10</text><text x="24.3" y="404.9" text-anchor="end" font-size="10" fill="#595959">8</text><text x="24.3" y="420.0" text-anchor="end" font-size="10" fill="#595959">6</text><text x="24.3" y="435.0" text-anchor="end" font-size="10" fill="#595959">4</text><text x="24.3" y="450.0" text-anchor="end" font-size="10" fill="#595959">2</text><text x="24.3" y="465.0" text-anchor="end" font-size="10" fill="#595959">0</text><text x="261.5" y="374.9" font-size="10" fill="#595959">0</text><text x="261.5" y="392.9" font-size="10" fill="#595959">-0.1</text><text x="261.5" y="410.9" font-size="10" fill="#595959">-0.2</text><text x="261.5" y="429.0" font-size="10" fill="#595959">-0.3</text><text x="261.5" y="447.0" font-size="10" fill="#595959">-0.4</text><text x="261.5" y="465.0" font-size="10" fill="#595959">-0.5</text><text transform="translate(34.1 469.0) rotate(-90)" text-anchor="end" font-size="10" fill="#595959">2012/2/1</text><text transform="translate(52.0 469.0) rotate(-90)" text-anchor="end" font-size="10" fill="#595959">2013/2/1</text><text transform="translate(69.9 469.0) rotate(-90)" text-anchor="end" font-size="10" fill="#595959">2014/2/1</text><text transform="translate(87.9 469.0) rotate(-90)" text-anchor="end" font-size="10" fill="#595959">2015/2/1</text><text transform="translate(105.8 469.0) rotate(-90)" text-anchor="end" font-size="10" fill="#595959">2016/2/1</text><text transform="translate(123.7 469.0) rotate(-90)" text-anchor="end" font-size="10" fill="#595959">2017/2/1</text><text transform="translate(141.6 469.0) rotate(-90)" text-anchor="end" font-size="10" fill="#595959">2018/2/1</text><text transform="translate(159.5 469.0) rotate(-90)" text-anchor="end" font-size="10" fill="#595959">2019/2/1</text><text transform="translate(177.4 469.0) rotate(-90)" text-anchor="end" font-size="10" fill="#595959">2020/2/1</text><text transform="translate(195.3 469.0) rotate(-90)" text-anchor="end" font-size="10" fill="#595959">2021/2/1</text><text transform="translate(213.3 469.0) rotate(-90)" text-anchor="end" font-size="10" fill="#595959">2022/2/1</text><text transform="translate(231.2 469.0) rotate(-90)" text-anchor="end" font-size="10" fill="#595959">2023/2/1</text><text transform="translate(249.1 469.0) rotate(-90)" text-anchor="end" font-size="10" fill="#595959">2024/2/1</text><path d="M338.3 371.3 L338.4 386.3 L338.8 403.2 L339.2 413.4 L339.3 417.6 L339.6 412.6 L340.0 401.4 L340.2 403.3 L340.4 404.9 L340.8 394.1 L341.0 400.0 L341.2 399.2 L341.6 391.9 L342.0 389.3 L342.0 389.3 L342.4 383.9 L342.8 385.6 L343.0 385.0 L343.2 381.4 L343.6 383.6 L344.0 381.5 L344.4 375.9 L344.8 375.0 L345.2 372.7 L345.6 372.0 L346.0 374.4 L346.4 374.0 L346.8 378.0 L347.2 379.5 L347.5 385.3 L347.6 386.1 L348.0 389.9 L348.4 392.1 L348.8 394.8 L348.8 394.8 L349.2 392.0 L349.6 387.8 L350.0 382.4 L350.4 379.0 L350.8 375.9 L351.2 375.6 L351.6 374.0 L352.0 373.2 L352.4 373.4 L352.8 376.1 L353.2 377.2 L353.6 390.1 L353.8 391.3 L354.0 395.8 L354.4 401.5 L354.8 407.6 L354.8 407.6 L355.2 403.4 L355.6 393.2 L356.0 387.3 L356.0 387.3 L356.4 380.6 L356.8 380.1 L357.2 375.0 L357.6 373.9 L358.0 372.8 L358.4 372.7 L358.8 372.0 L359.2 374.6 L359.6 377.7 L360.0 379.0 L360.4 383.6 L360.8 384.6 L361.1 386.8 L361.2 385.5 L361.6 387.0 L362.0 383.9 L362.4 375.5 L362.8 374.8 L363.2 373.1 L363.6 372.9 L364.0 374.2 L364.4 372.6 L364.8 372.3 L365.2 376.8 L365.6 376.0 L366.0 378.4 L366.4 375.4 L366.8 374.2 L367.2 374.0 L367.6 373.9 L368.0 377.0 L368.4 375.1 L368.8 379.2 L369.2 378.7 L369.6 376.6 L370.0 377.4 L370.4 373.4 L370.8 373.8 L371.2 375.1 L371.6 376.2 L372.0 378.0 L372.4 375.2 L372.8 375.1 L373.2 373.8 L373.6 372.5 L374.0 373.0 L374.4 376.2 L374.8 376.2 L375.2 378.9 L375.6 380.8 L376.0 374.8 L376.4 378.3 L376.8 373.2 L377.2 374.5 L377.6 374.6 L378.0 376.2 L378.4 375.7 L378.8 377.0 L379.2 377.8 L379.6 376.7 L380.0 375.7 L380.4 373.5 L380.8 373.4 L381.2 372.8 L381.6 377.0 L382.0 374.3 L382.4 375.8 L382.8 379.1 L383.2 378.9 L383.6 376.6 L384.0 373.4 L384.4 372.4 L384.8 374.1 L385.2 377.8 L385.6 375.4 L386.0 375.3 L386.4 378.4 L386.8 373.4 L387.2 374.8 L387.6 376.1 L388.0 390.5 L388.4 399.5 L388.6 401.3 L388.8 410.2 L389.2 420.3 L389.6 430.9 L389.9 440.4 L390.0 433.2 L390.4 420.3 L390.8 411.3 L390.8 411.3 L391.2 410.4 L391.6 407.9 L391.9 400.7 L392.0 406.1 L392.4 403.6 L392.7 405.3 L392.8 409.0 L393.2 406.1 L393.5 410.0 L393.6 411.0 L394.0 412.5 L394.4 406.9 L394.5 407.3 L394.8 413.5 L395.2 413.1 L395.5 416.6 L395.6 419.5 L396.0 408.1 L396.4 402.3 L396.5 401.3 L396.8 403.6 L397.2 402.9 L397.5 400.0 L397.6 401.3 L398.0 387.7 L398.4 381.2 L398.8 380.2 L399.2 376.4 L399.6 373.7 L400.0 375.7 L400.4 373.8 L400.8 373.9 L401.2 372.8 L401.6 374.7 L402.0 379.3 L402.4 380.2 L402.8 385.1 L403.2 383.1 L403.5 389.3 L403.6 392.0 L404.0 397.7 L404.4 399.2 L404.8 405.5 L405.0 404.7 L405.2 401.5 L405.6 396.4 L406.0 390.4 L406.2 385.3 L406.4 385.9 L406.8 380.7 L407.2 374.2 L407.6 373.1 L408.0 372.3 L408.4 372.7 L408.8 373.1 L409.2 373.4 L409.6 375.3 L410.0 377.8 L410.4 380.3 L410.8 388.5 L411.2 388.4 L411.3 386.8 L411.6 385.3 L412.0 382.6 L412.4 381.7 L412.8 376.3 L413.2 373.5 L413.6 374.6 L414.0 373.6 L414.4 373.1 L414.8 374.6 L415.2 377.7 L415.6 378.1 L416.0 380.2 L416.4 379.2 L416.8 375.9 L417.2 375.2 L417.6 372.7 L418.0 374.4 L418.4 377.0 L418.8 376.7 L419.2 379.3 L419.6 381.0 L420.0 384.5 L420.4 380.4 L420.8 375.9 L421.2 374.2 L421.6 371.9 L422.0 374.6 L422.4 374.9 L422.8 374.7 L423.2 375.1 L423.6 377.4 L424.0 374.8 L424.4 376.4 L424.8 374.3 L425.2 376.4 L425.6 372.4 L426.0 373.0 L426.4 376.7 L426.8 375.6 L427.2 380.0 L427.6 378.4 L428.0 380.8 L428.4 378.6 L428.8 375.1 L429.2 376.0 L429.6 373.7 L430.0 373.3 L430.4 372.6 L430.8 376.3 L431.2 372.2 L431.6 372.7 L432.0 372.8 L432.4 373.3 L432.8 372.8 L433.2 377.0 L433.6 380.4 L434.0 386.3 L434.0 386.3 L434.4 391.5 L434.8 398.6 L435.1 399.7 L435.2 393.3 L435.6 388.8 L436.0 389.3 L436.0 389.3 L436.4 390.5 L436.8 390.3 L437.0 385.0 L437.2 388.9 L437.6 387.7 L438.0 389.3 L438.0 389.3 L438.4 387.8 L438.7 398.7 L438.8 399.2 L439.2 383.4 L439.6 383.3 L440.0 376.1 L440.4 372.9 L440.8 373.7 L441.2 372.5 L441.6 374.1 L442.0 373.0 L442.4 375.5 L442.8 372.9 L443.2 373.2 L443.6 374.3 L444.0 373.8 L444.4 372.8 L444.8 372.4 L445.2 376.6 L445.6 376.3 L446.0 378.4 L446.4 382.2 L446.8 385.6 L447.0 387.3 L447.2 391.6 L447.6 394.7 L448.0 400.2 L448.4 402.2 L448.5 402.3 L448.8 392.0 L449.2 393.5 L449.6 389.5 L449.8 385.3 L450.0 382.8 L450.4 379.3 L450.8 374.2 L451.2 375.3 L451.6 372.6 L452.0 374.3 L452.4 373.5 L452.8 374.0 L453.2 375.5 L453.6 375.8 L454.0 377.3 L454.4 375.0 L454.8 375.8 L455.2 374.8 L455.6 373.5 L456.0 374.0 L456.4 375.1 L456.8 375.7 L457.2 377.6 L457.6 382.2 L458.0 397.9 L458.3 401.3 L458.4 408.2 L458.8 416.9 L459.2 427.8 L459.3 426.5 L459.6 419.5 L460.0 408.3 L460.3 397.3 L460.4 400.2 L460.8 384.8 L461.2 378.0 L461.6 372.6 L462.0 374.5 L462.4 373.7 L462.8 372.6 L463.2 379.4 L463.6 397.9 L464.0 412.6 L464.2 416.3 L464.4 417.2 L464.8 431.5 L465.2 455.4 L465.4 460.2 L465.6 447.3 L466.0 438.6 L466.4 425.4 L466.5 421.3 L466.8 413.6 L467.2 404.5 L467.6 392.5 L467.8 391.3 L468.0 386.2 L468.4 379.7 L468.8 383.0 L469.2 373.3 L469.6 372.6 L470.0 372.4 L470.4 373.0 L470.8 373.2 L471.2 373.0 L471.6 372.0 L472.0 374.3 L472.4 375.8 L472.8 374.2 L473.2 380.9 L473.6 376.9 L474.0 374.1 L474.4 379.0 L474.8 375.7 L475.2 374.7 L475.6 373.5 L476.0 372.0 L476.4 372.6 L476.8 374.4 L477.2 379.8 L477.6 381.5 L478.0 388.3 L478.4 386.3 L478.7 393.3 L478.8 396.3 L479.2 393.4 L479.6 405.1 L480.0 409.9 L480.4 409.7 L480.7 414.6 L480.8 417.9 L481.2 407.6 L481.6 397.0 L482.0 401.3 L482.4 393.4 L482.6 391.3 L482.8 390.4 L483.2 386.1 L483.6 381.1 L484.0 379.2 L484.4 375.9 L484.8 372.9 L485.2 372.1 L485.6 372.2 L486.0 373.4 L486.4 377.9 L486.8 383.1 L487.2 391.7 L487.5 394.8 L487.6 396.0 L488.0 393.3 L488.4 382.3 L488.8 375.7 L489.2 379.2 L489.6 373.0 L490.0 372.3 L490.4 374.0 L490.8 373.0 L491.2 374.9 L491.6 372.0 L492.0 373.5 L492.4 372.2 L492.8 376.8 L493.2 379.7 L493.6 380.8 L494.0 388.5 L494.4 391.0 L494.5 391.3 L494.8 397.3 L495.2 398.2 L495.6 399.4 L496.0 406.7 L496.0 406.7 L496.4 396.2 L496.8 398.9 L497.2 395.5 L497.6 389.3 L497.6 389.3 L498.0 388.1 L498.4 381.5 L498.8 380.4 L499.2 378.6 L499.6 372.9 L500.0 376.2 L500.4 375.0 L500.8 372.3 L501.2 371.7 L501.6 373.4 L502.0 372.2 L502.4 372.3 L502.8 376.6 L503.2 378.6 L503.6 376.6 L504.0 385.3 L504.0 385.3 L504.4 381.2 L504.8 392.5 L505.2 394.7 L505.5 394.8 L505.6 388.1 L506.0 389.5 L506.4 382.3 L506.8 379.3 L507.2 375.3 L507.6 374.6 L508.0 377.1 L508.4 378.4 L508.8 380.0 L509.2 381.4 L509.5 385.0 L509.6 383.7 L510.0 383.5 L510.4 377.4 L510.8 374.4 L511.2 373.3 L511.6 377.1 L512.0 374.7 L512.4 380.0 L512.8 383.1 L513.2 390.7 L513.6 393.2 L514.0 398.7 L514.0 398.7 L514.4 393.8 L514.8 389.5 L515.2 386.3 L515.6 383.6 L516.0 379.1 L516.4 374.3 L516.8 373.1 L517.2 374.9 L517.6 373.7 L518.0 375.3 L518.4 373.7 L518.8 372.3 L519.2 373.8 L519.6 373.7 L520.0 373.4 L520.4 371.8 L520.8 380.7 L521.2 385.1 L521.6 382.8 L522.0 384.8 L522.4 390.2 L522.5 391.3 L522.8 393.0 L523.2 394.9 L523.6 401.5 L524.0 406.2 L524.3 407.6 L524.4 403.7 L524.8 404.7 L525.2 400.1 L525.6 393.5 L525.8 389.3 L526.0 381.0 L526.4 385.7 L526.8 378.3 L527.2 375.5 L527.6 372.5 L528.0 375.3 L528.4 373.8 L528.8 373.9 L529.2 373.7 L529.6 375.1 L530.0 375.5 L530.4 374.1 L530.8 374.9 L531.2 377.0 L531.6 377.7 L532.0 385.1 L532.3 390.8 L532.4 390.2 L532.8 390.9 L533.2 384.4 L533.6 381.7 L534.0 376.9 L534.4 373.9 L534.8 373.0 L535.2 373.2 L535.6 373.5 L536.0 374.8 L536.4 375.4 L536.8 379.0 L537.2 377.4 L537.6 388.4 L538.0 380.8 L538.4 392.5 L538.8 394.0 L539.0 394.8 L539.2 393.4 L539.6 390.5 L540.0 391.4 L540.4 386.3 L540.8 388.8 L541.0 385.0 L541.2 390.0 L541.6 383.7 L542.0 394.9 L542.4 393.4 L542.5 394.0 L542.8 385.0 L543.2 386.7 L543.6 376.1 L544.0 375.1 L544.4 372.4 L544.8 374.7 L545.2 376.1 L545.6 372.7 L546.0 373.5 L546.4 375.7 L546.8 374.6 L547.2 381.1 L547.6 376.4 L548.0 380.0 L548.2 386.8 L548.4 386.7 L548.8 378.1 L549.2 378.5 L549.6 377.8 L550.0 374.3 L550.4 372.5 L550.8 375.6 L551.2 372.5 L551.6 374.2 L552.0 373.6 L552.4 373.7 L552.8 373.3 L553.2 377.4 L553.6 393.3 L554.0 407.9 L554.4 421.3 L554.4 421.3 L554.8 433.5 L555.2 443.9 L555.5 451.3 L555.6 448.1 L556.0 443.4 L556.4 431.3 L556.4 431.3 L556.8 425.8 L557.2 421.5 L557.5 415.0 L557.6 416.2 L558.0 419.3 L558.4 421.1 L558.5 421.3 L558.8 423.0 L559.2 420.7 L559.6 430.5 L559.6 430.5 L560.0 420.2 L560.4 411.3 L560.4 411.3 L560.8 408.3 L561.0 400.0 L561.2 402.0 L561.6 391.8 L561.9 386.3 L561.9 371.3Z" fill="#0d9bfc"/><path d="M338.3 477.8H561.9" stroke="#d9d9d9" stroke-width="1"/><path d="M338.3 477.8v3.5" stroke="#d9d9d9" stroke-width="1" fill="none"/><path d="M356.2 477.8v3.5" stroke="#d9d9d9" stroke-width="1" fill="none"/><path d="M374.1 477.8v3.5" stroke="#d9d9d9" stroke-width="1" fill="none"/><path d="M392.1 477.8v3.5" stroke="#d9d9d9" stroke-width="1" fill="none"/><path d="M410.0 477.8v3.5" stroke="#d9d9d9" stroke-width="1" fill="none"/><path d="M427.9 477.8v3.5" stroke="#d9d9d9" stroke-width="1" fill="none"/><path d="M445.8 477.8v3.5" stroke="#d9d9d9" stroke-width="1" fill="none"/><path d="M463.7 477.8v3.5" stroke="#d9d9d9" stroke-width="1" fill="none"/><path d="M481.6 477.8v3.5" stroke="#d9d9d9" stroke-width="1" fill="none"/><path d="M499.5 477.8v3.5" stroke="#d9d9d9" stroke-width="1" fill="none"/><path d="M517.5 477.8v3.5" stroke="#d9d9d9" stroke-width="1" fill="none"/><path d="M535.4 477.8v3.5" stroke="#d9d9d9" stroke-width="1" fill="none"/><path d="M553.3 477.8v3.5" stroke="#d9d9d9" stroke-width="1" fill="none"/><path d="M338.3 464.4 L338.7 464.2 L339.0 464.6 L339.4 464.6 L339.7 464.4 L340.1 464.0 L340.4 464.1 L340.8 464.0 L341.1 464.1 L341.5 464.1 L341.8 464.4 L342.2 464.2 L342.5 464.0 L342.9 463.8 L343.2 463.9 L343.6 464.0 L343.9 463.6 L344.3 463.4 L344.6 463.7 L345.0 463.6 L345.3 463.9 L345.7 463.7 L346.0 463.5 L346.4 463.6 L346.7 463.6 L347.1 464.2 L347.4 464.2 L347.8 463.9 L348.1 463.7 L348.5 463.7 L348.8 463.6 L349.2 463.6 L349.5 463.4 L349.9 463.2 L350.2 462.8 L350.6 462.8 L350.9 463.2 L351.3 463.2 L351.6 463.2 L352.0 462.7 L352.3 462.3 L352.7 462.7 L353.0 462.5 L353.4 462.5 L353.7 462.1 L354.1 462.7 L354.4 463.1 L354.8 462.5 L355.1 462.4 L355.5 462.4 L355.8 462.6 L356.2 462.8 L356.5 462.7 L356.9 462.5 L357.2 462.6 L357.6 462.1 L357.9 462.2 L358.3 462.2 L358.6 462.3 L359.0 462.0 L359.3 461.9 L359.7 461.7 L360.0 461.8 L360.4 461.6 L360.7 462.5 L361.1 462.1 L361.4 462.4 L361.8 462.1 L362.1 461.9 L362.5 462.1 L362.8 461.9 L363.2 462.5 L363.5 462.3 L363.9 461.6 L364.2 462.0 L364.6 461.1 L364.9 461.2 L365.3 461.1 L365.6 461.3 L366.0 461.2 L366.3 461.2 L366.7 461.2 L367.0 461.5 L367.4 461.2 L367.7 461.1 L368.1 461.9 L368.4 462.2 L368.8 462.2 L369.1 461.8 L369.5 461.4 L369.8 461.3 L370.2 460.8 L370.5 461.2 L370.9 460.9 L371.2 460.3 L371.6 460.8 L371.9 461.3 L372.3 461.4 L372.6 461.3 L373.0 461.2 L373.3 461.5 L373.7 461.5 L374.0 460.7 L374.4 460.8 L374.7 460.6 L375.1 461.1 L375.4 460.7 L375.8 460.4 L376.1 459.8 L376.5 460.0 L376.8 460.2 L377.2 460.6 L377.5 460.3 L377.9 460.5 L378.2 461.0 L378.6 460.2 L378.9 460.4 L379.3 460.2 L379.6 459.5 L380.0 459.3 L380.3 459.5 L380.7 459.2 L381.0 459.6 L381.4 459.3 L381.7 459.7 L382.1 459.5 L382.4 459.9 L382.8 460.0 L383.1 460.1 L383.5 460.2 L383.8 460.8 L384.2 460.6 L384.5 459.6 L384.9 459.5 L385.2 459.9 L385.6 460.2 L385.9 459.8 L386.3 460.0 L386.6 460.0 L387.0 459.8 L387.3 459.7 L387.7 459.9 L388.0 460.4 L388.4 459.7 L388.7 460.3 L389.1 460.3 L389.4 459.7 L389.8 460.0 L390.1 460.0 L390.5 459.7 L390.8 460.0 L391.2 459.9 L391.5 460.4 L391.9 460.7 L392.2 460.5 L392.6 460.4 L392.9 459.8 L393.3 459.8 L393.6 460.2 L394.0 460.7 L394.3 459.7 L394.7 459.8 L395.0 459.7 L395.4 460.5 L395.7 460.2 L396.1 460.7 L396.4 459.5 L396.8 458.8 L397.1 459.1 L397.5 458.6 L397.8 458.1 L398.2 458.2 L398.5 458.3 L398.9 458.5 L399.2 459.1 L399.6 458.4 L399.9 458.1 L400.3 457.5 L400.6 457.7 L401.0 458.2 L401.3 458.4 L401.7 457.1 L402.0 457.4 L402.4 457.2 L402.7 457.0 L403.1 456.5 L403.4 456.4 L403.8 456.6 L404.1 456.9 L404.5 457.0 L404.8 456.4 L405.2 456.3 L405.5 455.8 L405.9 456.0 L406.2 455.7 L406.6 454.8 L406.9 455.2 L407.3 455.6 L407.6 454.2 L408.0 454.8 L408.3 454.5 L408.7 454.0 L409.0 452.6 L409.4 452.1 L409.7 451.8 L410.1 452.3 L410.4 452.1 L410.8 452.2 L411.1 452.2 L411.5 452.3 L411.8 452.0 L412.2 452.5 L412.5 451.2 L412.9 451.0 L413.2 451.0 L413.6 450.8 L413.9 451.6 L414.3 451.3 L414.6 450.4 L415.0 450.5 L415.3 450.5 L415.7 450.3 L416.0 450.3 L416.4 450.2 L416.7 450.8 L417.1 450.6 L417.4 450.8 L417.8 450.6 L418.1 451.0 L418.5 450.7 L418.8 450.6 L419.2 450.9 L419.5 451.1 L419.9 451.1 L420.2 450.2 L420.6 449.4 L420.9 450.6 L421.3 449.5 L421.6 449.1 L422.0 448.5 L422.3 448.8 L422.7 448.9 L423.0 447.8 L423.4 448.7 L423.7 448.4 L424.1 449.0 L424.4 449.2 L424.8 448.9 L425.1 449.1 L425.5 448.3 L425.8 448.2 L426.2 447.9 L426.5 447.9 L426.9 448.0 L427.2 447.8 L427.6 447.4 L427.9 447.6 L428.3 447.2 L428.6 447.4 L429.0 446.8 L429.3 446.1 L429.7 447.3 L430.0 446.3 L430.4 446.7 L430.7 447.2 L431.1 447.0 L431.4 446.8 L431.8 446.3 L432.1 445.9 L432.5 445.3 L432.8 445.6 L433.2 445.8 L433.5 444.9 L433.9 444.1 L434.2 446.1 L434.6 445.7 L434.9 445.0 L435.3 444.7 L435.6 445.3 L436.0 446.0 L436.3 445.3 L436.7 445.1 L437.0 445.5 L437.4 445.2 L437.7 445.4 L438.1 445.6 L438.4 445.9 L438.8 446.2 L439.1 445.9 L439.5 445.2 L439.8 444.2 L440.2 444.2 L440.5 443.7 L440.9 443.5 L441.2 443.5 L441.6 443.4 L441.9 443.8 L442.3 443.6 L442.6 443.3 L443.0 443.8 L443.3 443.2 L443.7 443.6 L444.0 442.9 L444.4 442.5 L444.7 441.5 L445.1 441.4 L445.4 440.7 L445.8 441.5 L446.1 441.2 L446.5 441.6 L446.8 441.3 L447.2 440.2 L447.5 438.8 L447.9 439.0 L448.2 438.8 L448.6 438.7 L448.9 439.0 L449.3 438.9 L449.6 438.6 L450.0 438.6 L450.3 438.1 L450.7 437.5 L451.0 437.3 L451.4 437.9 L451.7 438.0 L452.1 437.4 L452.4 437.4 L452.8 437.5 L453.1 436.6 L453.5 437.6 L453.8 437.0 L454.2 436.2 L454.5 436.3 L454.9 436.4 L455.2 437.1 L455.6 437.4 L455.9 436.6 L456.3 436.1 L456.6 435.8 L457.0 435.7 L457.3 435.2 L457.7 435.3 L458.0 436.1 L458.4 436.4 L458.7 435.8 L459.1 435.0 L459.4 435.7 L459.8 436.5 L460.1 435.6 L460.5 436.2 L460.8 437.3 L461.2 437.6 L461.5 437.6 L461.9 437.3 L462.2 436.9 L462.6 437.2 L462.9 437.9 L463.3 438.1 L463.6 438.4 L464.0 438.1 L464.3 437.9 L464.7 438.7 L465.0 438.6 L465.4 439.0 L465.7 438.2 L466.1 437.3 L466.4 437.3 L466.8 437.3 L467.1 435.4 L467.5 435.3 L467.8 435.9 L468.2 435.9 L468.5 435.2 L468.9 435.4 L469.2 435.7 L469.6 436.3 L469.9 434.7 L470.3 434.8 L470.6 434.4 L471.0 435.8 L471.3 435.7 L471.7 434.7 L472.0 435.2 L472.4 435.6 L472.7 435.9 L473.1 436.1 L473.4 435.4 L473.8 434.4 L474.1 434.8 L474.5 434.8 L474.8 434.6 L475.2 433.7 L475.5 434.6 L475.9 435.0 L476.2 435.7 L476.6 435.7 L476.9 435.3 L477.3 434.6 L477.6 434.5 L478.0 434.2 L478.3 434.4 L478.7 434.1 L479.0 435.1 L479.4 435.0 L479.7 435.2 L480.1 435.1 L480.4 434.9 L480.8 433.7 L481.1 434.0 L481.5 434.1 L481.8 435.0 L482.2 433.8 L482.5 434.0 L482.9 433.9 L483.2 433.2 L483.6 432.6 L483.9 432.6 L484.3 432.0 L484.6 432.8 L485.0 430.4 L485.3 430.0 L485.7 431.5 L486.0 431.4 L486.4 429.8 L486.7 428.7 L487.1 428.5 L487.4 428.3 L487.8 427.9 L488.1 428.4 L488.5 428.9 L488.8 428.7 L489.2 429.1 L489.5 429.1 L489.9 430.0 L490.2 429.1 L490.6 429.3 L490.9 429.5 L491.3 430.1 L491.6 429.1 L492.0 429.3 L492.3 428.5 L492.7 429.3 L493.0 429.7 L493.4 430.3 L493.7 429.7 L494.1 430.7 L494.4 429.8 L494.8 428.5 L495.1 428.3 L495.5 428.6 L495.8 429.5 L496.2 429.0 L496.5 428.6 L496.9 429.2 L497.2 428.3 L497.6 429.1 L497.9 429.4 L498.3 428.5 L498.6 428.6 L499.0 428.0 L499.3 427.3 L499.7 427.6 L500.0 427.3 L500.4 427.8 L500.7 427.4 L501.1 426.0 L501.4 426.2 L501.8 426.5 L502.1 426.4 L502.5 425.0 L502.8 424.6 L503.2 423.8 L503.5 423.9 L503.9 423.5 L504.2 424.3 L504.6 424.3 L504.9 425.8 L505.3 425.3 L505.6 423.6 L506.0 423.4 L506.3 424.6 L506.7 423.8 L507.0 423.6 L507.4 424.0 L507.7 424.5 L508.1 424.6 L508.4 423.8 L508.8 422.5 L509.1 422.1 L509.5 422.6 L509.8 421.4 L510.2 421.7 L510.5 422.9 L510.9 421.7 L511.2 422.2 L511.6 421.4 L511.9 420.9 L512.3 421.4 L512.6 421.8 L513.0 421.5 L513.3 421.6 L513.7 421.9 L514.0 422.7 L514.4 421.3 L514.7 420.1 L515.1 421.1 L515.4 421.0 L515.8 419.7 L516.1 419.7 L516.5 420.2 L516.8 419.0 L517.2 418.7 L517.5 418.7 L517.9 417.5 L518.2 416.3 L518.6 416.7 L518.9 416.3 L519.3 416.0 L519.6 415.1 L520.0 415.3 L520.3 415.6 L520.7 414.9 L521.0 414.4 L521.4 413.2 L521.7 412.9 L522.1 412.2 L522.4 412.8 L522.8 413.2 L523.1 412.8 L523.5 412.1 L523.8 412.5 L524.2 413.2 L524.5 414.2 L524.9 412.5 L525.2 412.9 L525.6 413.7 L525.9 412.3 L526.3 411.7 L526.6 412.0 L527.0 411.6 L527.3 410.3 L527.7 409.3 L528.0 408.9 L528.4 408.8 L528.7 408.8 L529.1 409.0 L529.4 407.8 L529.8 407.8 L530.1 407.7 L530.5 407.0 L530.8 407.6 L531.2 407.3 L531.5 407.5 L531.9 406.8 L532.2 406.2 L532.6 406.1 L532.9 407.7 L533.3 407.7 L533.6 407.6 L534.0 406.7 L534.3 406.9 L534.7 406.0 L535.0 406.6 L535.4 406.6 L535.7 406.3 L536.1 406.9 L536.4 405.9 L536.8 405.3 L537.1 406.4 L537.5 405.7 L537.8 405.1 L538.2 406.6 L538.5 406.9 L538.9 406.8 L539.2 406.3 L539.6 405.1 L539.9 405.4 L540.3 405.1 L540.6 404.4 L541.0 404.4 L541.3 404.6 L541.7 404.3 L542.0 404.6 L542.4 404.3 L542.7 402.7 L543.1 402.7 L543.4 401.9 L543.8 402.7 L544.1 399.5 L544.5 399.5 L544.8 399.9 L545.2 400.4 L545.5 398.9 L545.9 398.6 L546.2 398.5 L546.6 397.5 L546.9 397.7 L547.3 396.6 L547.6 395.6 L548.0 396.4 L548.3 395.0 L548.7 394.3 L549.0 395.6 L549.4 395.4 L549.7 393.7 L550.1 393.0 L550.4 391.5 L550.8 390.1 L551.1 389.5 L551.5 389.9 L551.8 389.6 L552.2 388.2 L552.5 385.9 L552.9 387.1 L553.2 386.3 L553.6 387.7 L553.9 388.8 L554.3 390.0 L554.6 389.4 L555.0 389.0 L555.3 389.2 L555.7 390.4 L556.0 391.2 L556.4 390.2 L556.7 390.6 L557.1 389.7 L557.4 389.7 L557.8 389.4 L558.1 389.7 L558.5 391.4 L558.8 389.7 L559.2 388.0 L559.5 386.9 L559.9 387.1 L560.2 387.3 L560.6 387.5 L560.9 386.2 L561.3 385.1 L561.6 385.2" fill="none" stroke="#0a51d6" stroke-width="2.9" stroke-linejoin="round" stroke-linecap="round"/><text x="331.5" y="374.9" text-anchor="end" font-size="10" fill="#595959">8</text><text x="331.5" y="388.2" text-anchor="end" font-size="10" fill="#595959">7</text><text x="331.5" y="401.5" text-anchor="end" font-size="10" fill="#595959">6</text><text x="331.5" y="414.8" text-anchor="end" font-size="10" fill="#595959">5</text><text x="331.5" y="428.1" text-anchor="end" font-size="10" fill="#595959">4</text><text x="331.5" y="441.5" text-anchor="end" font-size="10" fill="#595959">3</text><text x="331.5" y="454.8" text-anchor="end" font-size="10" fill="#595959">2</text><text x="331.5" y="468.1" text-anchor="end" font-size="10" fill="#595959">1</text><text x="331.5" y="481.4" text-anchor="end" font-size="10" fill="#595959">0</text><text x="568.5" y="374.9" font-size="10" fill="#595959">0</text><text x="568.5" y="385.6" font-size="10" fill="#595959">-0.01</text><text x="568.5" y="396.2" font-size="10" fill="#595959">-0.02</text><text x="568.5" y="406.9" font-size="10" fill="#595959">-0.03</text><text x="568.5" y="417.5" font-size="10" fill="#595959">-0.04</text><text x="568.5" y="428.2" font-size="10" fill="#595959">-0.05</text><text x="568.5" y="438.8" font-size="10" fill="#595959">-0.06</text><text x="568.5" y="449.5" font-size="10" fill="#595959">-0.07</text><text x="568.5" y="460.1" font-size="10" fill="#595959">-0.08</text><text x="568.5" y="470.8" font-size="10" fill="#595959">-0.09</text><text x="568.5" y="481.4" font-size="10" fill="#595959">-0.1</text><text transform="translate(341.2 485.6) rotate(-90)" text-anchor="end" font-size="10" fill="#595959">2012/2/1</text><text transform="translate(359.1 485.6) rotate(-90)" text-anchor="end" font-size="10" fill="#595959">2013/2/1</text><text transform="translate(377.0 485.6) rotate(-90)" text-anchor="end" font-size="10" fill="#595959">2014/2/1</text><text transform="translate(394.9 485.6) rotate(-90)" text-anchor="end" font-size="10" fill="#595959">2015/2/1</text><text transform="translate(412.9 485.6) rotate(-90)" text-anchor="end" font-size="10" fill="#595959">2016/2/1</text><text transform="translate(430.8 485.6) rotate(-90)" text-anchor="end" font-size="10" fill="#595959">2017/2/1</text><text transform="translate(448.7 485.6) rotate(-90)" text-anchor="end" font-size="10" fill="#595959">2018/2/1</text><text transform="translate(466.6 485.6) rotate(-90)" text-anchor="end" font-size="10" fill="#595959">2019/2/1</text><text transform="translate(484.5 485.6) rotate(-90)" text-anchor="end" font-size="10" fill="#595959">2020/2/1</text><text transform="translate(502.4 485.6) rotate(-90)" text-anchor="end" font-size="10" fill="#595959">2021/2/1</text><text transform="translate(520.4 485.6) rotate(-90)" text-anchor="end" font-size="10" fill="#595959">2022/2/1</text><text transform="translate(538.3 485.6) rotate(-90)" text-anchor="end" font-size="10" fill="#595959">2023/2/1</text><text transform="translate(556.2 485.6) rotate(-90)" text-anchor="end" font-size="10" fill="#595959">2024/2/1</text><rect x="76.1" y="524.3" width="21.7" height="6.8" fill="#d2d2d2"/><path d="M75 543.9H98.7" stroke="#0a51d6" stroke-width="2.2" stroke-linecap="round"/><path d="M75 559.9H98.7" stroke="#0d98fb" stroke-width="2.2" stroke-linecap="round"/><rect x="378.1" y="540" width="21.7" height="6.8" fill="#0d9bfc"/><path d="M377.6 559.9H400.4" stroke="#0a51d6" stroke-width="2.2" stroke-linecap="round"/></svg>
<div class="abs ct j" style="width:205.3px;left:43.85px;top:342.3px">动量优化风险平价组合：累计净值（倍）</div>
<div class="abs ct j" style="width:228.1px;left:344.3px;top:342.3px">动量优化风险平价组合：超额累计净值（倍）</div>
<div class="abs lg j" style="width:121.8px;left:100.7px;top:522.2px">风险平价组合回撤（右轴）</div>
<div class="abs lg j" style="width:101.5px;left:100.7px;top:538.5px">风险平价组合（左轴）</div>
<div class="abs lg j" style="width:81.2px;left:100.7px;top:554.6px">中证全指（左轴）</div>
<div class="abs lg j" style="width:142.0px;left:402.7px;top:538.3px">风险平价组合超额回撤（右轴）</div>
<div class="abs lg j" style="width:121.8px;left:402.7px;top:554.6px">风险平价组合超额（左轴）</div>

<div class="abs kai tt j" style="width:255.7px;left:740px;top:87.1px">不同参数下动量优化风险平价组合收益对比</div>
<div class="abs" style="left:634.4px;top:106.2px;width:445.6px;height:15.7px;background:#0c36dc"></div>
<div class="abs th" style="left:634.4px;top:106.2px;width:45.5px;height:15.7px"><span>过去N月</span></div>
<div class="abs th" style="left:679.9px;top:106.2px;width:44.0px;height:15.7px"><span>绝对收益</span></div>
<div class="abs th" style="left:723.9px;top:106.2px;width:44.8px;height:15.7px"><span>年化波动</span></div>
<div class="abs th" style="left:768.7px;top:106.2px;width:44.5px;height:15.7px"><span>夏普比率</span></div>
<div class="abs th" style="left:813.2px;top:106.2px;width:44.7px;height:15.7px"><span>最大回撤</span></div>
<div class="abs th" style="left:857.9px;top:106.2px;width:44.3px;height:15.7px"><span>相对收益</span></div>
<div class="abs th" style="left:902.2px;top:106.2px;width:45.6px;height:15.7px"><span>相对收益波动</span></div>
<div class="abs th" style="left:947.8px;top:106.2px;width:44.7px;height:15.7px"><span>信息比</span></div>
<div class="abs th" style="left:992.5px;top:106.2px;width:45.2px;height:15.7px"><span>最大回撤</span></div>
<div class="abs th" style="left:1037.7px;top:106.2px;width:44.3px;height:15.7px"><span>卡玛比率</span></div>
<div class="abs c" style="left:768.7px;top:121.9px;width:44.5px;height:16.3px;background:#fcc7c7"></div>
<div class="abs c" style="left:947.8px;top:121.9px;width:44.7px;height:16.3px;background:#ffffff"></div>
<div class="abs bar" style="left:679.9px;top:123.2px;width:40.1px;height:13.6px"></div>
<div class="abs bar" style="left:859.1px;top:123.2px;width:16.2px;height:13.6px"></div>
<div class="abs c" style="left:768.7px;top:138.2px;width:44.5px;height:16.3px;background:#fba1a2"></div>
<div class="abs c" style="left:947.8px;top:138.2px;width:44.7px;height:16.3px;background:#f97779"></div>
<div class="abs bar" style="left:679.9px;top:139.6px;width:41.3px;height:13.6px"></div>
<div class="abs bar" style="left:859.1px;top:139.6px;width:41.3px;height:13.6px"></div>
<div class="abs c" style="left:768.7px;top:154.6px;width:44.5px;height:16.3px;background:#feecec"></div>
<div class="abs c" style="left:947.8px;top:154.6px;width:44.7px;height:16.3px;background:#f97c7d"></div>
<div class="abs bar" style="left:679.9px;top:155.9px;width:40.3px;height:13.6px"></div>
<div class="abs bar" style="left:859.1px;top:155.9px;width:40.1px;height:13.6px"></div>
<div class="abs c" style="left:768.7px;top:171.0px;width:44.5px;height:16.3px;background:#feecec"></div>
<div class="abs c" style="left:947.8px;top:171.0px;width:44.7px;height:16.3px;background:#f97b7c"></div>
<div class="abs bar" style="left:679.9px;top:172.3px;width:40.1px;height:13.6px"></div>
<div class="abs bar" style="left:859.1px;top:172.3px;width:39.9px;height:13.6px"></div>
<div class="abs c" style="left:768.7px;top:187.3px;width:44.5px;height:16.3px;background:#feecec"></div>
<div class="abs c" style="left:947.8px;top:187.3px;width:44.7px;height:16.3px;background:#f97779"></div>
<div class="abs bar" style="left:679.9px;top:188.6px;width:40.1px;height:13.6px"></div>
<div class="abs bar" style="left:859.1px;top:188.6px;width:39.9px;height:13.6px"></div>
<div class="abs c" style="left:768.7px;top:203.7px;width:44.5px;height:16.3px;background:#ffffff"></div>
<div class="abs c" style="left:947.8px;top:203.7px;width:44.7px;height:16.3px;background:#f97c7d"></div>
<div class="abs bar" style="left:679.9px;top:205.0px;width:39.7px;height:13.6px"></div>
<div class="abs bar" style="left:859.1px;top:205.0px;width:39.4px;height:13.6px"></div>
<div class="abs c" style="left:768.7px;top:220.0px;width:44.5px;height:16.3px;background:#fcc7c7"></div>
<div class="abs c" style="left:947.8px;top:220.0px;width:44.7px;height:16.3px;background:#f87375"></div>
<div class="abs bar" style="left:679.9px;top:221.3px;width:40.6px;height:13.6px"></div>
<div class="abs bar" style="left:859.1px;top:221.3px;width:40.5px;height:13.6px"></div>
<div class="abs c" style="left:768.7px;top:236.4px;width:44.5px;height:16.3px;background:#feecec"></div>
<div class="abs c" style="left:947.8px;top:236.4px;width:44.7px;height:16.3px;background:#f97a7b"></div>
<div class="abs bar" style="left:679.9px;top:237.7px;width:39.7px;height:13.6px"></div>
<div class="abs bar" style="left:859.1px;top:237.7px;width:39.4px;height:13.6px"></div>
<div class="abs c" style="left:768.7px;top:252.7px;width:44.5px;height:16.3px;background:#f8696b"></div>
<div class="abs c" style="left:947.8px;top:252.7px;width:44.7px;height:16.3px;background:#f8696b"></div>
<div class="abs bar" style="left:679.9px;top:254.0px;width:42.2px;height:13.6px"></div>
<div class="abs bar" style="left:859.1px;top:254.0px;width:42.4px;height:13.6px"></div>
<div class="abs c" style="left:768.7px;top:269.1px;width:44.5px;height:16.4px;background:#fba1a2"></div>
<div class="abs c" style="left:947.8px;top:269.1px;width:44.7px;height:16.4px;background:#f86c6e"></div>
<div class="abs bar" style="left:679.9px;top:270.4px;width:41.3px;height:13.6px"></div>
<div class="abs bar" style="left:859.1px;top:270.4px;width:41.4px;height:13.6px"></div>
<div class="abs hl" style="left:634.4px;top:137.8px;width:445.6px"></div>
<div class="abs hl" style="left:634.4px;top:154.1px;width:445.6px"></div>
<div class="abs hl" style="left:634.4px;top:170.5px;width:445.6px"></div>
<div class="abs hl" style="left:634.4px;top:186.8px;width:445.6px"></div>
<div class="abs hl" style="left:634.4px;top:203.2px;width:445.6px"></div>
<div class="abs hl" style="left:634.4px;top:219.5px;width:445.6px"></div>
<div class="abs hl" style="left:634.4px;top:235.9px;width:445.6px"></div>
<div class="abs hl" style="left:634.4px;top:252.2px;width:445.6px"></div>
<div class="abs hl" style="left:634.4px;top:268.6px;width:445.6px"></div>
<div class="abs vl" style="left:679.4px;top:121.9px;height:163.5px"></div>
<div class="abs vl" style="left:723.4px;top:121.9px;height:163.5px"></div>
<div class="abs vl" style="left:768.2px;top:121.9px;height:163.5px"></div>
<div class="abs vl" style="left:812.7px;top:121.9px;height:163.5px"></div>
<div class="abs vl" style="left:901.7px;top:121.9px;height:163.5px"></div>
<div class="abs vl" style="left:947.3px;top:121.9px;height:163.5px"></div>
<div class="abs vl" style="left:992.0px;top:121.9px;height:163.5px"></div>
<div class="abs vl" style="left:1037.2px;top:121.9px;height:163.5px"></div>
<div class="abs vl" style="left:633.9px;top:121.9px;height:163.5px"></div>
<div class="abs" style="left:901.7px;top:106.2px;width:1px;height:15.7px;background:#14247c"></div>
<div class="abs" style="left:947.3px;top:106.2px;width:1px;height:15.7px;background:#14247c"></div>
<div class="abs" style="left:992.0px;top:106.2px;width:1px;height:15.7px;background:#14247c"></div>
<div class="abs" style="left:1037.2px;top:106.2px;width:1px;height:15.7px;background:#14247c"></div>
<div class="abs dk" style="left:857.4px;top:106.2px;width:1px;height:179.2px;background:#3a3f55"></div>
<div class="abs dk" style="left:634.4px;top:285.0px;width:445.6px;height:1.2px;background:#555"></div>
<div class="abs c" style="left:634.4px;top:121.9px;width:45.5px;height:16.9px"><span class="n">3</span></div>
<div class="abs c" style="left:679.9px;top:121.9px;width:44.0px;height:16.9px"><span class="n">20<i class="p">.</i>09<i class="pc">%</i></span></div>
<div class="abs c" style="left:723.9px;top:121.9px;width:44.8px;height:16.9px"><span class="n">18<i class="p">.</i>66<i class="pc">%</i></span></div>
<div class="abs c" style="left:768.7px;top:121.9px;width:44.5px;height:16.9px"><span class="n">1<i class="p">.</i>08</span></div>
<div class="abs c" style="left:813.2px;top:121.9px;width:44.7px;height:16.9px"><span class="n">38<i class="p">.</i>91<i class="pc">%</i></span></div>
<div class="abs c" style="left:857.9px;top:121.9px;width:44.3px;height:16.9px"><span class="n">6<i class="p">.</i>53<i class="pc">%</i></span></div>
<div class="abs c" style="left:902.2px;top:121.9px;width:45.6px;height:16.9px"><span class="n">6<i class="p">.</i>28<i class="pc">%</i></span></div>
<div class="abs c" style="left:947.8px;top:121.9px;width:44.7px;height:16.9px"><span class="n">1<i class="p">.</i>04</span></div>
<div class="abs c" style="left:992.5px;top:121.9px;width:45.2px;height:16.9px"><span class="n">4<i class="p">.</i>99<i class="pc">%</i></span></div>
<div class="abs c" style="left:1037.7px;top:121.9px;width:44.3px;height:16.9px"><span class="n">1<i class="p">.</i>31</span></div>
<div class="abs c" style="left:634.4px;top:138.2px;width:45.5px;height:16.9px"><span class="n">4</span></div>
<div class="abs c" style="left:679.9px;top:138.2px;width:44.0px;height:16.9px"><span class="n">20<i class="p">.</i>67<i class="pc">%</i></span></div>
<div class="abs c" style="left:723.9px;top:138.2px;width:44.8px;height:16.9px"><span class="n">18<i class="p">.</i>84<i class="pc">%</i></span></div>
<div class="abs c" style="left:768.7px;top:138.2px;width:44.5px;height:16.9px"><span class="n">1<i class="p">.</i>10</span></div>
<div class="abs c" style="left:813.2px;top:138.2px;width:44.7px;height:16.9px"><span class="n">40<i class="p">.</i>29<i class="pc">%</i></span></div>
<div class="abs c" style="left:857.9px;top:138.2px;width:44.3px;height:16.9px"><span class="n">16<i class="p">.</i>66<i class="pc">%</i></span></div>
<div class="abs c" style="left:902.2px;top:138.2px;width:45.6px;height:16.9px"><span class="n">7<i class="p">.</i>09<i class="pc">%</i></span></div>
<div class="abs c" style="left:947.8px;top:138.2px;width:44.7px;height:16.9px"><span class="n">2<i class="p">.</i>35</span></div>
<div class="abs c" style="left:992.5px;top:138.2px;width:45.2px;height:16.9px"><span class="n">9<i class="p">.</i>95<i class="pc">%</i></span></div>
<div class="abs c" style="left:1037.7px;top:138.2px;width:44.3px;height:16.9px"><span class="n">1<i class="p">.</i>68</span></div>
<div class="abs c" style="left:634.4px;top:154.6px;width:45.5px;height:16.9px"><span class="n">5</span></div>
<div class="abs c" style="left:679.9px;top:154.6px;width:44.0px;height:16.9px"><span class="n">20<i class="p">.</i>17<i class="pc">%</i></span></div>
<div class="abs c" style="left:723.9px;top:154.6px;width:44.8px;height:16.9px"><span class="n">18<i class="p">.</i>96<i class="pc">%</i></span></div>
<div class="abs c" style="left:768.7px;top:154.6px;width:44.5px;height:16.9px"><span class="n">1<i class="p">.</i>06</span></div>
<div class="abs c" style="left:813.2px;top:154.6px;width:44.7px;height:16.9px"><span class="n">40<i class="p">.</i>24<i class="pc">%</i></span></div>
<div class="abs c" style="left:857.9px;top:154.6px;width:44.3px;height:16.9px"><span class="n">16<i class="p">.</i>19<i class="pc">%</i></span></div>
<div class="abs c" style="left:902.2px;top:154.6px;width:45.6px;height:16.9px"><span class="n">7<i class="p">.</i>01<i class="pc">%</i></span></div>
<div class="abs c" style="left:947.8px;top:154.6px;width:44.7px;height:16.9px"><span class="n">2<i class="p">.</i>31</span></div>
<div class="abs c" style="left:992.5px;top:154.6px;width:45.2px;height:16.9px"><span class="n">9<i class="p">.</i>64<i class="pc">%</i></span></div>
<div class="abs c" style="left:1037.7px;top:154.6px;width:44.3px;height:16.9px"><span class="n">1<i class="p">.</i>68</span></div>
<div class="abs c" style="left:634.4px;top:171.0px;width:45.5px;height:16.9px"><span class="n">6</span></div>
<div class="abs c" style="left:679.9px;top:171.0px;width:44.0px;height:16.9px"><span class="n">20<i class="p">.</i>07<i class="pc">%</i></span></div>
<div class="abs c" style="left:723.9px;top:171.0px;width:44.8px;height:16.9px"><span class="n">18<i class="p">.</i>98<i class="pc">%</i></span></div>
<div class="abs c" style="left:768.7px;top:171.0px;width:44.5px;height:16.9px"><span class="n">1<i class="p">.</i>06</span></div>
<div class="abs c" style="left:813.2px;top:171.0px;width:44.7px;height:16.9px"><span class="n">40<i class="p">.</i>65<i class="pc">%</i></span></div>
<div class="abs c" style="left:857.9px;top:171.0px;width:44.3px;height:16.9px"><span class="n">16<i class="p">.</i>08<i class="pc">%</i></span></div>
<div class="abs c" style="left:902.2px;top:171.0px;width:45.6px;height:16.9px"><span class="n">6<i class="p">.</i>95<i class="pc">%</i></span></div>
<div class="abs c" style="left:947.8px;top:171.0px;width:44.7px;height:16.9px"><span class="n">2<i class="p">.</i>32</span></div>
<div class="abs c" style="left:992.5px;top:171.0px;width:45.2px;height:16.9px"><span class="n">11<i class="p">.</i>42<i class="pc">%</i></span></div>
<div class="abs c" style="left:1037.7px;top:171.0px;width:44.3px;height:16.9px"><span class="n">1<i class="p">.</i>41</span></div>
<div class="abs c" style="left:634.4px;top:187.3px;width:45.5px;height:16.9px"><span class="n">7</span></div>
<div class="abs c" style="left:679.9px;top:187.3px;width:44.0px;height:16.9px"><span class="n">20<i class="p">.</i>09<i class="pc">%</i></span></div>
<div class="abs c" style="left:723.9px;top:187.3px;width:44.8px;height:16.9px"><span class="n">18<i class="p">.</i>97<i class="pc">%</i></span></div>
<div class="abs c" style="left:768.7px;top:187.3px;width:44.5px;height:16.9px"><span class="n">1<i class="p">.</i>06</span></div>
<div class="abs c" style="left:813.2px;top:187.3px;width:44.7px;height:16.9px"><span class="n">40<i class="p">.</i>65<i class="pc">%</i></span></div>
<div class="abs c" style="left:857.9px;top:187.3px;width:44.3px;height:16.9px"><span class="n">16<i class="p">.</i>11<i class="pc">%</i></span></div>
<div class="abs c" style="left:902.2px;top:187.3px;width:45.6px;height:16.9px"><span class="n">6<i class="p">.</i>85<i class="pc">%</i></span></div>
<div class="abs c" style="left:947.8px;top:187.3px;width:44.7px;height:16.9px"><span class="n">2<i class="p">.</i>35</span></div>
<div class="abs c" style="left:992.5px;top:187.3px;width:45.2px;height:16.9px"><span class="n">8<i class="p">.</i>96<i class="pc">%</i></span></div>
<div class="abs c" style="left:1037.7px;top:187.3px;width:44.3px;height:16.9px"><span class="n">1<i class="p">.</i>80</span></div>
<div class="abs c" style="left:634.4px;top:203.7px;width:45.5px;height:16.9px"><span class="n">8</span></div>
<div class="abs c" style="left:679.9px;top:203.7px;width:44.0px;height:16.9px"><span class="n">19<i class="p">.</i>88<i class="pc">%</i></span></div>
<div class="abs c" style="left:723.9px;top:203.7px;width:44.8px;height:16.9px"><span class="n">18<i class="p">.</i>98<i class="pc">%</i></span></div>
<div class="abs c" style="left:768.7px;top:203.7px;width:44.5px;height:16.9px"><span class="n">1<i class="p">.</i>05</span></div>
<div class="abs c" style="left:813.2px;top:203.7px;width:44.7px;height:16.9px"><span class="n">40<i class="p">.</i>71<i class="pc">%</i></span></div>
<div class="abs c" style="left:857.9px;top:203.7px;width:44.3px;height:16.9px"><span class="n">15<i class="p">.</i>90<i class="pc">%</i></span></div>
<div class="abs c" style="left:902.2px;top:203.7px;width:45.6px;height:16.9px"><span class="n">6<i class="p">.</i>89<i class="pc">%</i></span></div>
<div class="abs c" style="left:947.8px;top:203.7px;width:44.7px;height:16.9px"><span class="n">2<i class="p">.</i>31</span></div>
<div class="abs c" style="left:992.5px;top:203.7px;width:45.2px;height:16.9px"><span class="n">8<i class="p">.</i>96<i class="pc">%</i></span></div>
<div class="abs c" style="left:1037.7px;top:203.7px;width:44.3px;height:16.9px"><span class="n">1<i class="p">.</i>77</span></div>
<div class="abs c" style="left:634.4px;top:220.0px;width:45.5px;height:16.9px"><span class="n">9</span></div>
<div class="abs c" style="left:679.9px;top:220.0px;width:44.0px;height:16.9px"><span class="n">20<i class="p">.</i>32<i class="pc">%</i></span></div>
<div class="abs c" style="left:723.9px;top:220.0px;width:44.8px;height:16.9px"><span class="n">18<i class="p">.</i>90<i class="pc">%</i></span></div>
<div class="abs c" style="left:768.7px;top:220.0px;width:44.5px;height:16.9px"><span class="n">1<i class="p">.</i>08</span></div>
<div class="abs c" style="left:813.2px;top:220.0px;width:44.7px;height:16.9px"><span class="n">40<i class="p">.</i>29<i class="pc">%</i></span></div>
<div class="abs c" style="left:857.9px;top:220.0px;width:44.3px;height:16.9px"><span class="n">16<i class="p">.</i>33<i class="pc">%</i></span></div>
<div class="abs c" style="left:902.2px;top:220.0px;width:45.6px;height:16.9px"><span class="n">6<i class="p">.</i>83<i class="pc">%</i></span></div>
<div class="abs c" style="left:947.8px;top:220.0px;width:44.7px;height:16.9px"><span class="n">2<i class="p">.</i>39</span></div>
<div class="abs c" style="left:992.5px;top:220.0px;width:45.2px;height:16.9px"><span class="n">9<i class="p">.</i>38<i class="pc">%</i></span></div>
<div class="abs c" style="left:1037.7px;top:220.0px;width:44.3px;height:16.9px"><span class="n">1<i class="p">.</i>74</span></div>
<div class="abs c" style="left:634.4px;top:236.4px;width:45.5px;height:16.9px"><span class="n">10</span></div>
<div class="abs c" style="left:679.9px;top:236.4px;width:44.0px;height:16.9px"><span class="n">19<i class="p">.</i>89<i class="pc">%</i></span></div>
<div class="abs c" style="left:723.9px;top:236.4px;width:44.8px;height:16.9px"><span class="n">18<i class="p">.</i>79<i class="pc">%</i></span></div>
<div class="abs c" style="left:768.7px;top:236.4px;width:44.5px;height:16.9px"><span class="n">1<i class="p">.</i>06</span></div>
<div class="abs c" style="left:813.2px;top:236.4px;width:44.7px;height:16.9px"><span class="n">39<i class="p">.</i>52<i class="pc">%</i></span></div>
<div class="abs c" style="left:857.9px;top:236.4px;width:44.3px;height:16.9px"><span class="n">15<i class="p">.</i>91<i class="pc">%</i></span></div>
<div class="abs c" style="left:902.2px;top:236.4px;width:45.6px;height:16.9px"><span class="n">6<i class="p">.</i>82<i class="pc">%</i></span></div>
<div class="abs c" style="left:947.8px;top:236.4px;width:44.7px;height:16.9px"><span class="n">2<i class="p">.</i>33</span></div>
<div class="abs c" style="left:992.5px;top:236.4px;width:45.2px;height:16.9px"><span class="n">9<i class="p">.</i>54<i class="pc">%</i></span></div>
<div class="abs c" style="left:1037.7px;top:236.4px;width:44.3px;height:16.9px"><span class="n">1<i class="p">.</i>67</span></div>
<div class="abs c" style="left:634.4px;top:252.7px;width:45.5px;height:17.0px"><span class="n">11</span></div>
<div class="abs c" style="left:679.9px;top:252.7px;width:44.0px;height:17.0px"><span class="n">21<i class="p">.</i>12<i class="pc">%</i></span></div>
<div class="abs c" style="left:723.9px;top:252.7px;width:44.8px;height:17.0px"><span class="n">18<i class="p">.</i>69<i class="pc">%</i></span></div>
<div class="abs c" style="left:768.7px;top:252.7px;width:44.5px;height:17.0px"><span class="n">1<i class="p">.</i>13</span></div>
<div class="abs c" style="left:813.2px;top:252.7px;width:44.7px;height:17.0px"><span class="n">38<i class="p">.</i>96<i class="pc">%</i></span></div>
<div class="abs c" style="left:857.9px;top:252.7px;width:44.3px;height:17.0px"><span class="n">17<i class="p">.</i>10<i class="pc">%</i></span></div>
<div class="abs c" style="left:902.2px;top:252.7px;width:45.6px;height:17.0px"><span class="n">6<i class="p">.</i>86<i class="pc">%</i></span></div>
<div class="abs c" style="left:947.8px;top:252.7px;width:44.7px;height:17.0px"><span class="n">2<i class="p">.</i>49</span></div>
<div class="abs c" style="left:992.5px;top:252.7px;width:45.2px;height:17.0px"><span class="n">8<i class="p">.</i>80<i class="pc">%</i></span></div>
<div class="abs c" style="left:1037.7px;top:252.7px;width:44.3px;height:17.0px"><span class="n">1<i class="p">.</i>94</span></div>
<div class="abs c" style="left:634.4px;top:269.1px;width:45.5px;height:17.0px"><span class="n">12</span></div>
<div class="abs c" style="left:679.9px;top:269.1px;width:44.0px;height:17.0px"><span class="n">20<i class="p">.</i>69<i class="pc">%</i></span></div>
<div class="abs c" style="left:723.9px;top:269.1px;width:44.8px;height:17.0px"><span class="n">18<i class="p">.</i>86<i class="pc">%</i></span></div>
<div class="abs c" style="left:768.7px;top:269.1px;width:44.5px;height:17.0px"><span class="n">1<i class="p">.</i>10</span></div>
<div class="abs c" style="left:813.2px;top:269.1px;width:44.7px;height:17.0px"><span class="n">39<i class="p">.</i>52<i class="pc">%</i></span></div>
<div class="abs c" style="left:857.9px;top:269.1px;width:44.3px;height:17.0px"><span class="n">16<i class="p">.</i>69<i class="pc">%</i></span></div>
<div class="abs c" style="left:902.2px;top:269.1px;width:45.6px;height:17.0px"><span class="n">6<i class="p">.</i>79<i class="pc">%</i></span></div>
<div class="abs c" style="left:947.8px;top:269.1px;width:44.7px;height:17.0px"><span class="n">2<i class="p">.</i>46</span></div>
<div class="abs c" style="left:992.5px;top:269.1px;width:45.2px;height:17.0px"><span class="n">7<i class="p">.</i>73<i class="pc">%</i></span></div>
<div class="abs c" style="left:1037.7px;top:269.1px;width:44.3px;height:17.0px"><span class="n">2<i class="p">.</i>16</span></div>
<svg class="abs" style="left:630px;top:244px" width="450" height="28" viewBox="630 244 450 28"><path d="M1090 248.8H634.6V266.4H1090" fill="none" stroke="#d01020" stroke-width="1.75" stroke-dasharray="7.5 4.5"/></svg>
<div class="abs kai j" style="width:276.0px;left:729px;top:305.5px;font-size:11px;letter-spacing:.8px;line-height:15px;color:#2438b4;font-weight:500">注：数据统计区间为<i class="d">2012</i>年<i class="d">2</i>月<i class="d">1</i>日至<i class="d">2024</i>年<i class="d">7</i>月<i class="d">31</i>日</div>
<div class="t2"><div class="abs kai tt j" style="width:228.8px;left:732.3px;top:327.3px">动量优化风险平价组合：年度收益对比</div>
<div class="abs" style="left:634.3px;top:349.9px;width:439.3px;height:15.0px;background:#0c36dc"></div>
<div class="abs th" style="left:682.7px;top:349.9px;width:48.3px;height:15.0px"><span>绝对收益</span></div>
<div class="abs th" style="left:731.0px;top:349.9px;width:49.5px;height:15.0px"><span>年化波动</span></div>
<div class="abs th" style="left:780.5px;top:349.9px;width:49.0px;height:15.0px"><span>夏普比率</span></div>
<div class="abs th" style="left:829.5px;top:349.9px;width:48.4px;height:15.0px"><span>最大回撤</span></div>
<div class="abs th" style="left:877.9px;top:349.9px;width:48.8px;height:15.0px"><span>相对收益</span></div>
<div class="abs th" style="left:926.7px;top:349.9px;width:49.1px;height:15.0px"><span>相对收益波动</span></div>
<div class="abs th" style="left:975.8px;top:349.9px;width:48.7px;height:15.0px"><span>信息比</span></div>
<div class="abs th" style="left:1024.5px;top:349.9px;width:49.1px;height:15.0px"><span>最大回撤</span></div>
<div class="abs c" style="left:780.5px;top:364.9px;width:49.0px;height:14.7px;background:#fdd2d3"></div>
<div class="abs c" style="left:975.8px;top:364.9px;width:48.7px;height:14.7px;background:#feefef"></div>
<div class="abs bar" style="left:691.9px;top:366.5px;width:3.4px;height:11.3px"></div>
<div class="abs bar" style="left:887.0px;top:366.5px;width:1.9px;height:11.3px"></div>
<div class="abs c" style="left:780.5px;top:379.6px;width:49.0px;height:14.7px;background:#fbb1b2"></div>
<div class="abs c" style="left:975.8px;top:379.6px;width:48.7px;height:14.7px;background:#fa9e9f"></div>
<div class="abs bar" style="left:691.9px;top:381.2px;width:12.0px;height:11.3px"></div>
<div class="abs bar" style="left:887.0px;top:381.2px;width:9.3px;height:11.3px"></div>
<div class="abs c" style="left:780.5px;top:394.2px;width:49.0px;height:14.7px;background:#f8696b"></div>
<div class="abs c" style="left:975.8px;top:394.2px;width:48.7px;height:14.7px;background:#fee5e5"></div>
<div class="abs bar" style="left:691.9px;top:395.8px;width:26.5px;height:11.3px"></div>
<div class="abs bar" style="left:887.0px;top:395.8px;width:2.4px;height:11.3px"></div>
<div class="abs c" style="left:780.5px;top:408.9px;width:49.0px;height:14.7px;background:#fa9899"></div>
<div class="abs c" style="left:975.8px;top:408.9px;width:48.7px;height:14.7px;background:#fa8c8e"></div>
<div class="abs bar" style="left:691.9px;top:410.5px;width:38.0px;height:11.3px"></div>
<div class="abs bar" style="left:887.0px;top:410.5px;width:16.7px;height:11.3px"></div>
<div class="abs c" style="left:780.5px;top:423.6px;width:49.0px;height:14.7px;background:#fdd1d2"></div>
<div class="abs c" style="left:975.8px;top:423.6px;width:48.7px;height:14.7px;background:#f8696b"></div>
<div class="abs bar" style="left:691.9px;top:425.2px;width:5.1px;height:11.3px"></div>
<div class="abs bar" style="left:887.0px;top:425.2px;width:15.1px;height:11.3px"></div>
<div class="abs c" style="left:780.5px;top:438.2px;width:49.0px;height:14.7px;background:#fa898b"></div>
<div class="abs c" style="left:975.8px;top:438.2px;width:48.7px;height:14.7px;background:#fbadae"></div>
<div class="abs bar" style="left:691.9px;top:439.8px;width:10.8px;height:11.3px"></div>
<div class="abs bar" style="left:887.0px;top:439.8px;width:9.8px;height:11.3px"></div>
<div class="abs c" style="left:780.5px;top:452.9px;width:49.0px;height:14.7px;background:#ffffff"></div>
<div class="abs c" style="left:975.8px;top:452.9px;width:48.7px;height:14.7px;background:#fba2a3"></div>
<div class="abs nbar" style="left:684.3px;top:454.5px;width:7.6px;height:11.3px"></div>
<div class="abs bar" style="left:887.0px;top:454.5px;width:11.3px;height:11.3px"></div>
<div class="abs c" style="left:780.5px;top:467.6px;width:49.0px;height:14.7px;background:#fa9e9f"></div>
<div class="abs c" style="left:975.8px;top:467.6px;width:48.7px;height:14.7px;background:#ffffff"></div>
<div class="abs bar" style="left:691.9px;top:469.2px;width:16.2px;height:11.3px"></div>
<div class="abs bar" style="left:887.0px;top:469.2px;width:1.2px;height:11.3px"></div>
<div class="abs c" style="left:780.5px;top:482.2px;width:49.0px;height:14.7px;background:#fa9596"></div>
<div class="abs c" style="left:975.8px;top:482.2px;width:48.7px;height:14.7px;background:#fcc3c4"></div>
<div class="abs bar" style="left:691.9px;top:483.8px;width:22.5px;height:11.3px"></div>
<div class="abs bar" style="left:887.0px;top:483.8px;width:8.0px;height:11.3px"></div>
<div class="abs c" style="left:780.5px;top:496.9px;width:49.0px;height:14.7px;background:#fa9798"></div>
<div class="abs c" style="left:975.8px;top:496.9px;width:48.7px;height:14.7px;background:#fba5a6"></div>
<div class="abs bar" style="left:691.9px;top:498.5px;width:14.9px;height:11.3px"></div>
<div class="abs bar" style="left:887.0px;top:498.5px;width:11.5px;height:11.3px"></div>
<div class="abs c" style="left:780.5px;top:511.5px;width:49.0px;height:14.7px;background:#feeaea"></div>
<div class="abs c" style="left:975.8px;top:511.5px;width:48.7px;height:14.7px;background:#fbafb0"></div>
<div class="abs nbar" style="left:689.7px;top:513.1px;width:2.2px;height:11.3px"></div>
<div class="abs bar" style="left:887.0px;top:513.1px;width:10.7px;height:11.3px"></div>
<div class="abs c" style="left:780.5px;top:526.2px;width:49.0px;height:14.7px;background:#fcbcbc"></div>
<div class="abs c" style="left:975.8px;top:526.2px;width:48.7px;height:14.7px;background:#fbb0b1"></div>
<div class="abs bar" style="left:691.9px;top:527.8px;width:5.6px;height:11.3px"></div>
<div class="abs bar" style="left:887.0px;top:527.8px;width:10.3px;height:11.3px"></div>
<div class="abs c" style="left:780.5px;top:540.9px;width:49.0px;height:14.7px;background:#fee7e8"></div>
<div class="abs c" style="left:975.8px;top:540.9px;width:48.7px;height:14.7px;background:#fee4e5"></div>
<div class="abs nbar" style="left:691.0px;top:542.5px;width:0.9px;height:11.3px"></div>
<div class="abs bar" style="left:887.0px;top:542.5px;width:4.0px;height:11.3px"></div>
<div class="abs c" style="left:780.5px;top:555.5px;width:49.0px;height:14.7px;background:#fcbbbc"></div>
<div class="abs c" style="left:975.8px;top:555.5px;width:48.7px;height:14.7px;background:#fcb9ba"></div>
<div class="abs bar" style="left:691.9px;top:557.1px;width:10.4px;height:11.3px"></div>
<div class="abs bar" style="left:887.0px;top:557.1px;width:8.8px;height:11.3px"></div>
<div class="abs hl" style="left:634.3px;top:379.1px;width:439.3px"></div>
<div class="abs hl" style="left:634.3px;top:393.7px;width:439.3px"></div>
<div class="abs hl" style="left:634.3px;top:408.4px;width:439.3px"></div>
<div class="abs hl" style="left:634.3px;top:423.1px;width:439.3px"></div>
<div class="abs hl" style="left:634.3px;top:437.7px;width:439.3px"></div>
<div class="abs hl" style="left:634.3px;top:452.4px;width:439.3px"></div>
<div class="abs hl" style="left:634.3px;top:467.1px;width:439.3px"></div>
<div class="abs hl" style="left:634.3px;top:481.7px;width:439.3px"></div>
<div class="abs hl" style="left:634.3px;top:496.4px;width:439.3px"></div>
<div class="abs hl" style="left:634.3px;top:511.0px;width:439.3px"></div>
<div class="abs hl" style="left:634.3px;top:525.7px;width:439.3px"></div>
<div class="abs hl" style="left:634.3px;top:540.4px;width:439.3px"></div>
<div class="abs hl" style="left:634.3px;top:555.0px;width:439.3px"></div>
<div class="abs vl" style="left:730.5px;top:364.9px;height:205.3px"></div>
<div class="abs vl" style="left:780.0px;top:364.9px;height:205.3px"></div>
<div class="abs vl" style="left:829.0px;top:364.9px;height:205.3px"></div>
<div class="abs vl" style="left:926.2px;top:364.9px;height:205.3px"></div>
<div class="abs vl" style="left:975.3px;top:364.9px;height:205.3px"></div>
<div class="abs vl" style="left:1024.0px;top:364.9px;height:205.3px"></div>
<div class="abs" style="left:691.4px;top:365.4px;height:204.3px;width:0;border-left:1px dashed #5a5a5a"></div>
<div class="abs" style="left:886.5px;top:365.4px;height:204.3px;width:0;border-left:1px dashed #5a5a5a"></div>
<div class="abs" style="left:926.2px;top:349.9px;width:1px;height:15.0px;background:#14247c"></div>
<div class="abs" style="left:975.3px;top:349.9px;width:1px;height:15.0px;background:#14247c"></div>
<div class="abs" style="left:1024.0px;top:349.9px;width:1px;height:15.0px;background:#14247c"></div>
<div class="abs" style="left:682.1px;top:364.9px;width:1.1px;height:205.3px;background:#3a3a3a"></div>
<div class="abs" style="left:877.3px;top:349.9px;width:1.1px;height:220.3px;background:#3a3a3a"></div>
<div class="abs" style="left:1073.0px;top:364.9px;width:1.2px;height:205.3px;background:#444"></div>
<div class="abs" style="left:634.3px;top:554.9px;width:439.3px;height:1.2px;background:#444"></div>
<div class="abs" style="left:634.3px;top:569.8px;width:439.3px;height:1.3px;background:#444"></div>
<div class="abs c" style="left:634.3px;top:364.9px;width:47.4px;height:15.3px;overflow:hidden"><span class="yl kai"><span class="n" style="margin:0 -1.7px 0 -2px">2012</span><span class="yk">年</span></span></div>
<div class="abs c" style="left:682.7px;top:364.9px;width:48.3px;height:15.3px"><span class="n">6<i class="p">.</i>84<i class="pc">%</i></span></div>
<div class="abs c" style="left:731.0px;top:364.9px;width:49.5px;height:15.3px"><span class="n">15<i class="p">.</i>43<i class="pc">%</i></span></div>
<div class="abs c" style="left:780.5px;top:364.9px;width:49.0px;height:15.3px"><span class="n">0<i class="p">.</i>44</span></div>
<div class="abs c" style="left:829.5px;top:364.9px;width:48.4px;height:15.3px"><span class="n">17<i class="p">.</i>81<i class="pc">%</i></span></div>
<div class="abs c" style="left:877.9px;top:364.9px;width:48.8px;height:15.3px"><span class="n">3<i class="p">.</i>64<i class="pc">%</i></span></div>
<div class="abs c" style="left:926.7px;top:364.9px;width:49.1px;height:15.3px"><span class="n">5<i class="p">.</i>48<i class="pc">%</i></span></div>
<div class="abs c" style="left:975.8px;top:364.9px;width:48.7px;height:15.3px"><span class="n">0<i class="p">.</i>66</span></div>
<div class="abs c" style="left:1024.5px;top:364.9px;width:49.1px;height:15.3px"><span class="n">4<i class="p">.</i>65<i class="pc">%</i></span></div>
<div class="abs c" style="left:634.3px;top:379.6px;width:47.4px;height:15.3px;overflow:hidden"><span class="yl kai"><span class="n" style="margin:0 -1.7px 0 -2px">2013</span><span class="yk">年</span></span></div>
<div class="abs c" style="left:682.7px;top:379.6px;width:48.3px;height:15.3px"><span class="n">24<i class="p">.</i>37<i class="pc">%</i></span></div>
<div class="abs c" style="left:731.0px;top:379.6px;width:49.5px;height:15.3px"><span class="n">17<i class="p">.</i>27<i class="pc">%</i></span></div>
<div class="abs c" style="left:780.5px;top:379.6px;width:49.0px;height:15.3px"><span class="n">1<i class="p">.</i>41</span></div>
<div class="abs c" style="left:829.5px;top:379.6px;width:48.4px;height:15.3px"><span class="n">13<i class="p">.</i>40<i class="pc">%</i></span></div>
<div class="abs c" style="left:877.9px;top:379.6px;width:48.8px;height:15.3px"><span class="n">18<i class="p">.</i>21<i class="pc">%</i></span></div>
<div class="abs c" style="left:926.7px;top:379.6px;width:49.1px;height:15.3px"><span class="n">5<i class="p">.</i>33<i class="pc">%</i></span></div>
<div class="abs c" style="left:975.8px;top:379.6px;width:48.7px;height:15.3px"><span class="n">3<i class="p">.</i>42</span></div>
<div class="abs c" style="left:1024.5px;top:379.6px;width:49.1px;height:15.3px"><span class="n">1<i class="p">.</i>95<i class="pc">%</i></span></div>
<div class="abs c" style="left:634.3px;top:394.2px;width:47.4px;height:15.3px;overflow:hidden"><span class="yl kai"><span class="n" style="margin:0 -1.7px 0 -2px">2014</span><span class="yk">年</span></span></div>
<div class="abs c" style="left:682.7px;top:394.2px;width:48.3px;height:15.3px"><span class="n">53<i class="p">.</i>70<i class="pc">%</i></span></div>
<div class="abs c" style="left:731.0px;top:394.2px;width:49.5px;height:15.3px"><span class="n">15<i class="p">.</i>23<i class="pc">%</i></span></div>
<div class="abs c" style="left:780.5px;top:394.2px;width:49.0px;height:15.3px"><span class="n">3<i class="p">.</i>53</span></div>
<div class="abs c" style="left:829.5px;top:394.2px;width:48.4px;height:15.3px"><span class="n">6<i class="p">.</i>67<i class="pc">%</i></span></div>
<div class="abs c" style="left:877.9px;top:394.2px;width:48.8px;height:15.3px"><span class="n">4<i class="p">.</i>59<i class="pc">%</i></span></div>
<div class="abs c" style="left:926.7px;top:394.2px;width:49.1px;height:15.3px"><span class="n">4<i class="p">.</i>64<i class="pc">%</i></span></div>
<div class="abs c" style="left:975.8px;top:394.2px;width:48.7px;height:15.3px"><span class="n">0<i class="p">.</i>99</span></div>
<div class="abs c" style="left:1024.5px;top:394.2px;width:49.1px;height:15.3px"><span class="n">6<i class="p">.</i>78<i class="pc">%</i></span></div>
<div class="abs c" style="left:634.3px;top:408.9px;width:47.4px;height:15.3px;overflow:hidden"><span class="yl kai"><span class="n" style="margin:0 -1.7px 0 -2px">2015</span><span class="yk">年</span></span></div>
<div class="abs c" style="left:682.7px;top:408.9px;width:48.3px;height:15.3px"><span class="n">76<i class="p">.</i>98<i class="pc">%</i></span></div>
<div class="abs c" style="left:731.0px;top:408.9px;width:49.5px;height:15.3px"><span class="n">35<i class="p">.</i>71<i class="pc">%</i></span></div>
<div class="abs c" style="left:780.5px;top:408.9px;width:49.0px;height:15.3px"><span class="n">2<i class="p">.</i>16</span></div>
<div class="abs c" style="left:829.5px;top:408.9px;width:48.4px;height:15.3px"><span class="n">38<i class="p">.</i>96<i class="pc">%</i></span></div>
<div class="abs c" style="left:877.9px;top:408.9px;width:48.8px;height:15.3px"><span class="n">32<i class="p">.</i>59<i class="pc">%</i></span></div>
<div class="abs c" style="left:926.7px;top:408.9px;width:49.1px;height:15.3px"><span class="n">8<i class="p">.</i>11<i class="pc">%</i></span></div>
<div class="abs c" style="left:975.8px;top:408.9px;width:48.7px;height:15.3px"><span class="n">4<i class="p">.</i>02</span></div>
<div class="abs c" style="left:1024.5px;top:408.9px;width:49.1px;height:15.3px"><span class="n">3<i class="p">.</i>55<i class="pc">%</i></span></div>
<div class="abs c" style="left:634.3px;top:423.6px;width:47.4px;height:15.3px;overflow:hidden"><span class="yl kai"><span class="n" style="margin:0 -1.7px 0 -2px">2016</span><span class="yk">年</span></span></div>
<div class="abs c" style="left:682.7px;top:423.6px;width:48.3px;height:15.3px"><span class="n">10<i class="p">.</i>38<i class="pc">%</i></span></div>
<div class="abs c" style="left:731.0px;top:423.6px;width:49.5px;height:15.3px"><span class="n">21<i class="p">.</i>61<i class="pc">%</i></span></div>
<div class="abs c" style="left:780.5px;top:423.6px;width:49.0px;height:15.3px"><span class="n">0<i class="p">.</i>48</span></div>
<div class="abs c" style="left:829.5px;top:423.6px;width:48.4px;height:15.3px"><span class="n">18<i class="p">.</i>10<i class="pc">%</i></span></div>
<div class="abs c" style="left:877.9px;top:423.6px;width:48.8px;height:15.3px"><span class="n">29<i class="p">.</i>46<i class="pc">%</i></span></div>
<div class="abs c" style="left:926.7px;top:423.6px;width:49.1px;height:15.3px"><span class="n">5<i class="p">.</i>63<i class="pc">%</i></span></div>
<div class="abs c" style="left:975.8px;top:423.6px;width:48.7px;height:15.3px"><span class="n">5<i class="p">.</i>23</span></div>
<div class="abs c" style="left:1024.5px;top:423.6px;width:49.1px;height:15.3px"><span class="n">1<i class="p">.</i>87<i class="pc">%</i></span></div>
<div class="abs c" style="left:634.3px;top:438.2px;width:47.4px;height:15.3px;overflow:hidden"><span class="yl kai"><span class="n" style="margin:0 -1.7px 0 -2px">2017</span><span class="yk">年</span></span></div>
<div class="abs c" style="left:682.7px;top:438.2px;width:48.3px;height:15.3px"><span class="n">21<i class="p">.</i>94<i class="pc">%</i></span></div>
<div class="abs c" style="left:731.0px;top:438.2px;width:49.5px;height:15.3px"><span class="n">8<i class="p">.</i>52<i class="pc">%</i></span></div>
<div class="abs c" style="left:780.5px;top:438.2px;width:49.0px;height:15.3px"><span class="n">2<i class="p">.</i>58</span></div>
<div class="abs c" style="left:829.5px;top:438.2px;width:48.4px;height:15.3px"><span class="n">4<i class="p">.</i>82<i class="pc">%</i></span></div>
<div class="abs c" style="left:877.9px;top:438.2px;width:48.8px;height:15.3px"><span class="n">19<i class="p">.</i>09<i class="pc">%</i></span></div>
<div class="abs c" style="left:926.7px;top:438.2px;width:49.1px;height:15.3px"><span class="n">6<i class="p">.</i>56<i class="pc">%</i></span></div>
<div class="abs c" style="left:975.8px;top:438.2px;width:48.7px;height:15.3px"><span class="n">2<i class="p">.</i>91</span></div>
<div class="abs c" style="left:1024.5px;top:438.2px;width:49.1px;height:15.3px"><span class="n">2<i class="p">.</i>98<i class="pc">%</i></span></div>
<div class="abs c" style="left:634.3px;top:452.9px;width:47.4px;height:15.3px;overflow:hidden"><span class="yl kai"><span class="n" style="margin:0 -1.7px 0 -2px">2018</span><span class="yk">年</span></span></div>
<div class="abs c" style="left:682.7px;top:452.9px;width:48.3px;height:15.3px"><span class="n">−15<i class="p">.</i>35<i class="pc">%</i></span></div>
<div class="abs c" style="left:731.0px;top:452.9px;width:49.5px;height:15.3px"><span class="n">17<i class="p">.</i>67<i class="pc">%</i></span></div>
<div class="abs c" style="left:780.5px;top:452.9px;width:49.0px;height:15.3px"><span class="n">−0<i class="p">.</i>87</span></div>
<div class="abs c" style="left:829.5px;top:452.9px;width:48.4px;height:15.3px"><span class="n">22<i class="p">.</i>47<i class="pc">%</i></span></div>
<div class="abs c" style="left:877.9px;top:452.9px;width:48.8px;height:15.3px"><span class="n">22<i class="p">.</i>07<i class="pc">%</i></span></div>
<div class="abs c" style="left:926.7px;top:452.9px;width:49.1px;height:15.3px"><span class="n">6<i class="p">.</i>73<i class="pc">%</i></span></div>
<div class="abs c" style="left:975.8px;top:452.9px;width:48.7px;height:15.3px"><span class="n">3<i class="p">.</i>28</span></div>
<div class="abs c" style="left:1024.5px;top:452.9px;width:49.1px;height:15.3px"><span class="n">5<i class="p">.</i>42<i class="pc">%</i></span></div>
<div class="abs c" style="left:634.3px;top:467.6px;width:47.4px;height:15.3px;overflow:hidden"><span class="yl kai"><span class="n" style="margin:0 -1.7px 0 -2px">2019</span><span class="yk">年</span></span></div>
<div class="abs c" style="left:682.7px;top:467.6px;width:48.3px;height:15.3px"><span class="n">32<i class="p">.</i>84<i class="pc">%</i></span></div>
<div class="abs c" style="left:731.0px;top:467.6px;width:49.5px;height:15.3px"><span class="n">16<i class="p">.</i>66<i class="pc">%</i></span></div>
<div class="abs c" style="left:780.5px;top:467.6px;width:49.0px;height:15.3px"><span class="n">1<i class="p">.</i>97</span></div>
<div class="abs c" style="left:829.5px;top:467.6px;width:48.4px;height:15.3px"><span class="n">9<i class="p">.</i>97<i class="pc">%</i></span></div>
<div class="abs c" style="left:877.9px;top:467.6px;width:48.8px;height:15.3px"><span class="n">0<i class="p">.</i>64<i class="pc">%</i></span></div>
<div class="abs c" style="left:926.7px;top:467.6px;width:49.1px;height:15.3px"><span class="n">6<i class="p">.</i>49<i class="pc">%</i></span></div>
<div class="abs c" style="left:975.8px;top:467.6px;width:48.7px;height:15.3px"><span class="n">0<i class="p">.</i>10</span></div>
<div class="abs c" style="left:1024.5px;top:467.6px;width:49.1px;height:15.3px"><span class="n">8<i class="p">.</i>80<i class="pc">%</i></span></div>
<div class="abs c" style="left:634.3px;top:482.2px;width:47.4px;height:15.3px;overflow:hidden"><span class="yl kai"><span class="n" style="margin:0 -1.7px 0 -2px">2020</span><span class="yk">年</span></span></div>
<div class="abs c" style="left:682.7px;top:482.2px;width:48.3px;height:15.3px"><span class="n">45<i class="p">.</i>45<i class="pc">%</i></span></div>
<div class="abs c" style="left:731.0px;top:482.2px;width:49.5px;height:15.3px"><span class="n">20<i class="p">.</i>18<i class="pc">%</i></span></div>
<div class="abs c" style="left:780.5px;top:482.2px;width:49.0px;height:15.3px"><span class="n">2<i class="p">.</i>25</span></div>
<div class="abs c" style="left:829.5px;top:482.2px;width:48.4px;height:15.3px"><span class="n">10<i class="p">.</i>65<i class="pc">%</i></span></div>
<div class="abs c" style="left:877.9px;top:482.2px;width:48.8px;height:15.3px"><span class="n">15<i class="p">.</i>68<i class="pc">%</i></span></div>
<div class="abs c" style="left:926.7px;top:482.2px;width:49.1px;height:15.3px"><span class="n">7<i class="p">.</i>29<i class="pc">%</i></span></div>
<div class="abs c" style="left:975.8px;top:482.2px;width:48.7px;height:15.3px"><span class="n">2<i class="p">.</i>15</span></div>
<div class="abs c" style="left:1024.5px;top:482.2px;width:49.1px;height:15.3px"><span class="n">3<i class="p">.</i>58<i class="pc">%</i></span></div>
<div class="abs c" style="left:634.3px;top:496.9px;width:47.4px;height:15.3px;overflow:hidden"><span class="yl kai"><span class="n" style="margin:0 -1.7px 0 -2px">2021</span><span class="yk">年</span></span></div>
<div class="abs c" style="left:682.7px;top:496.9px;width:48.3px;height:15.3px"><span class="n">30<i class="p">.</i>21<i class="pc">%</i></span></div>
<div class="abs c" style="left:731.0px;top:496.9px;width:49.5px;height:15.3px"><span class="n">13<i class="p">.</i>77<i class="pc">%</i></span></div>
<div class="abs c" style="left:780.5px;top:496.9px;width:49.0px;height:15.3px"><span class="n">2<i class="p">.</i>19</span></div>
<div class="abs c" style="left:829.5px;top:496.9px;width:48.4px;height:15.3px"><span class="n">8<i class="p">.</i>63<i class="pc">%</i></span></div>
<div class="abs c" style="left:877.9px;top:496.9px;width:48.8px;height:15.3px"><span class="n">22<i class="p">.</i>41<i class="pc">%</i></span></div>
<div class="abs c" style="left:926.7px;top:496.9px;width:49.1px;height:15.3px"><span class="n">7<i class="p">.</i>05<i class="pc">%</i></span></div>
<div class="abs c" style="left:975.8px;top:496.9px;width:48.7px;height:15.3px"><span class="n">3<i class="p">.</i>18</span></div>
<div class="abs c" style="left:1024.5px;top:496.9px;width:49.1px;height:15.3px"><span class="n">2<i class="p">.</i>96<i class="pc">%</i></span></div>
<div class="abs c" style="left:634.3px;top:511.5px;width:47.4px;height:15.3px;overflow:hidden"><span class="yl kai"><span class="n" style="margin:0 -1.7px 0 -2px">2022</span><span class="yk">年</span></span></div>
<div class="abs c" style="left:682.7px;top:511.5px;width:48.3px;height:15.3px"><span class="n">−4<i class="p">.</i>43<i class="pc">%</i></span></div>
<div class="abs c" style="left:731.0px;top:511.5px;width:49.5px;height:15.3px"><span class="n">16<i class="p">.</i>91<i class="pc">%</i></span></div>
<div class="abs c" style="left:780.5px;top:511.5px;width:49.0px;height:15.3px"><span class="n">−0<i class="p">.</i>26</span></div>
<div class="abs c" style="left:829.5px;top:511.5px;width:48.4px;height:15.3px"><span class="n">20<i class="p">.</i>29<i class="pc">%</i></span></div>
<div class="abs c" style="left:877.9px;top:511.5px;width:48.8px;height:15.3px"><span class="n">20<i class="p">.</i>85<i class="pc">%</i></span></div>
<div class="abs c" style="left:926.7px;top:511.5px;width:49.1px;height:15.3px"><span class="n">7<i class="p">.</i>32<i class="pc">%</i></span></div>
<div class="abs c" style="left:975.8px;top:511.5px;width:48.7px;height:15.3px"><span class="n">2<i class="p">.</i>85</span></div>
<div class="abs c" style="left:1024.5px;top:511.5px;width:49.1px;height:15.3px"><span class="n">3<i class="p">.</i>63<i class="pc">%</i></span></div>
<div class="abs c" style="left:634.3px;top:526.2px;width:47.4px;height:15.3px;overflow:hidden"><span class="yl kai"><span class="n" style="margin:0 -1.7px 0 -2px">2023</span><span class="yk">年</span></span></div>
<div class="abs c" style="left:682.7px;top:526.2px;width:48.3px;height:15.3px"><span class="n">11<i class="p">.</i>39<i class="pc">%</i></span></div>
<div class="abs c" style="left:731.0px;top:526.2px;width:49.5px;height:15.3px"><span class="n">10<i class="p">.</i>28<i class="pc">%</i></span></div>
<div class="abs c" style="left:780.5px;top:526.2px;width:49.0px;height:15.3px"><span class="n">1<i class="p">.</i>11</span></div>
<div class="abs c" style="left:829.5px;top:526.2px;width:48.4px;height:15.3px"><span class="n">7<i class="p">.</i>36<i class="pc">%</i></span></div>
<div class="abs c" style="left:877.9px;top:526.2px;width:48.8px;height:15.3px"><span class="n">20<i class="p">.</i>11<i class="pc">%</i></span></div>
<div class="abs c" style="left:926.7px;top:526.2px;width:49.1px;height:15.3px"><span class="n">7<i class="p">.</i>15<i class="pc">%</i></span></div>
<div class="abs c" style="left:975.8px;top:526.2px;width:48.7px;height:15.3px"><span class="n">2<i class="p">.</i>81</span></div>
<div class="abs c" style="left:1024.5px;top:526.2px;width:49.1px;height:15.3px"><span class="n">3<i class="p">.</i>77<i class="pc">%</i></span></div>
<div class="abs c" style="left:634.3px;top:540.9px;width:47.4px;height:15.3px;overflow:hidden"><span class="yl kai"><span class="n" style="margin:0 -1.7px 0 -2px">2024</span><span class="yk">年至今</span></span></div>
<div class="abs c" style="left:682.7px;top:540.9px;width:48.3px;height:15.3px"><span class="n">−1<i class="p">.</i>91<i class="pc">%</i></span></div>
<div class="abs c" style="left:731.0px;top:540.9px;width:49.5px;height:15.3px"><span class="n">10<i class="p">.</i>83<i class="pc">%</i></span></div>
<div class="abs c" style="left:780.5px;top:540.9px;width:49.0px;height:15.3px"><span class="n">−0<i class="p">.</i>18</span></div>
<div class="abs c" style="left:829.5px;top:540.9px;width:48.4px;height:15.3px"><span class="n">10<i class="p">.</i>82<i class="pc">%</i></span></div>
<div class="abs c" style="left:877.9px;top:540.9px;width:48.8px;height:15.3px"><span class="n">7<i class="p">.</i>88<i class="pc">%</i></span></div>
<div class="abs c" style="left:926.7px;top:540.9px;width:49.1px;height:15.3px"><span class="n">7<i class="p">.</i>80<i class="pc">%</i></span></div>
<div class="abs c" style="left:975.8px;top:540.9px;width:48.7px;height:15.3px"><span class="n">1<i class="p">.</i>01</span></div>
<div class="abs c" style="left:1024.5px;top:540.9px;width:49.1px;height:15.3px"><span class="n">7<i class="p">.</i>73<i class="pc">%</i></span></div>
<div class="abs c" style="left:634.3px;top:555.5px;width:47.4px;height:15.3px;overflow:hidden"><span class="yl kai"><span class="yk">全时期</span></span></div>
<div class="abs c" style="left:682.7px;top:555.5px;width:48.3px;height:15.3px"><span class="n">21<i class="p">.</i>12<i class="pc">%</i></span></div>
<div class="abs c" style="left:731.0px;top:555.5px;width:49.5px;height:15.3px"><span class="n">18<i class="p">.</i>69<i class="pc">%</i></span></div>
<div class="abs c" style="left:780.5px;top:555.5px;width:49.0px;height:15.3px"><span class="n">1<i class="p">.</i>13</span></div>
<div class="abs c" style="left:829.5px;top:555.5px;width:48.4px;height:15.3px"><span class="n">38<i class="p">.</i>96<i class="pc">%</i></span></div>
<div class="abs c" style="left:877.9px;top:555.5px;width:48.8px;height:15.3px"><span class="n">17<i class="p">.</i>10<i class="pc">%</i></span></div>
<div class="abs c" style="left:926.7px;top:555.5px;width:49.1px;height:15.3px"><span class="n">6<i class="p">.</i>86<i class="pc">%</i></span></div>
<div class="abs c" style="left:975.8px;top:555.5px;width:48.7px;height:15.3px"><span class="n">2<i class="p">.</i>49</span></div>
<div class="abs c" style="left:1024.5px;top:555.5px;width:49.1px;height:15.3px"><span class="n">8<i class="p">.</i>80<i class="pc">%</i></span></div></div>
<svg class="abs" style="left:570px;top:285px" width="75" height="50" viewBox="570 285 75 50"><defs><linearGradient id="ag" gradientUnits="userSpaceOnUse" x1="634.5" y1="291" x2="581" y2="326.5"><stop offset="0" stop-color="#1c379f" stop-opacity="0"/><stop offset=".25" stop-color="#1c379f" stop-opacity=".25"/><stop offset="1" stop-color="#16309a" stop-opacity="1"/></linearGradient></defs><path d="M632.5 288.8L635.5 293.2L586.7 326.3L588.6 329.2L579.7 327.6L581.6 318.8L583.6 321.8Z" fill="url(#ag)"/></svg>
</body></html>
